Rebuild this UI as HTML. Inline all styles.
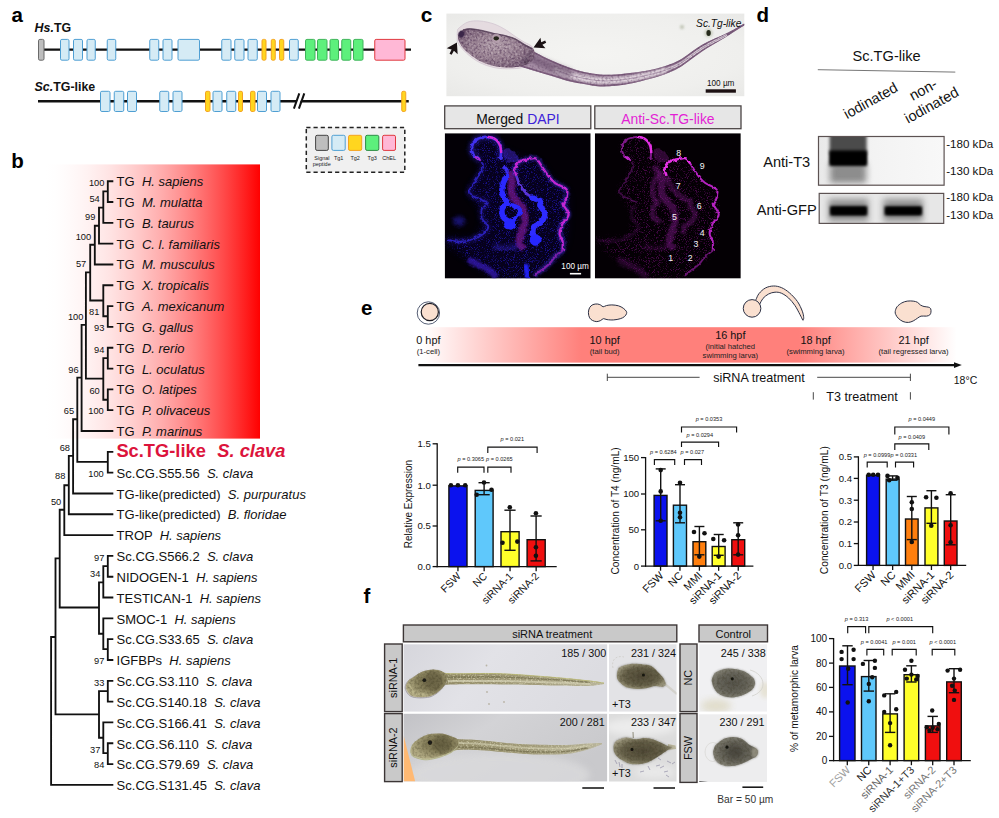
<!DOCTYPE html>
<html><head><meta charset="utf-8"><title>Figure</title>
<style>
html,body{margin:0;padding:0;background:#fff;}
body{width:999px;height:818px;overflow:hidden;font-family:"Liberation Sans",sans-serif;}
svg{display:block;font-family:"Liberation Sans",sans-serif;}
</style></head><body>
<svg width="999" height="818" viewBox="0 0 999 818">
<rect x="0" y="0" width="999" height="818" fill="#fff"/>
<!-- panel_a -->
<g>
<text x="11.5" y="22.3" font-size="20.5" font-weight="bold" fill="#000" >a</text>
<text x="34.6" y="32.2" font-size="12.4" font-weight="bold" fill="#111"><tspan font-style="italic">Hs.</tspan>TG</text>
<text x="34.6" y="91" font-size="12.4" font-weight="bold" fill="#111"><tspan font-style="italic">Sc.</tspan>TG-like</text>
<line x1="38" y1="49.6" x2="411" y2="49.6" stroke="#111" stroke-width="2.4" />
<rect x="38.5" y="39.4" width="5.5" height="20.8" fill="#bebebe" stroke="#6a6a6a" stroke-width="1" rx="1.4"/>
<rect x="60.5" y="39.4" width="8.5" height="20.8" fill="#d5ebf5" stroke="#4f9fd3" stroke-width="1" rx="1.4"/>
<rect x="73.5" y="39.4" width="9" height="20.8" fill="#d5ebf5" stroke="#4f9fd3" stroke-width="1" rx="1.4"/>
<rect x="87" y="39.4" width="8.25" height="20.8" fill="#d5ebf5" stroke="#4f9fd3" stroke-width="1" rx="1.4"/>
<rect x="107.25" y="39.4" width="8.5" height="20.8" fill="#d5ebf5" stroke="#4f9fd3" stroke-width="1" rx="1.4"/>
<rect x="149.75" y="39.4" width="9" height="20.8" fill="#d5ebf5" stroke="#4f9fd3" stroke-width="1" rx="1.4"/>
<rect x="163" y="39.4" width="9" height="20.8" fill="#d5ebf5" stroke="#4f9fd3" stroke-width="1" rx="1.4"/>
<rect x="178" y="39.4" width="21.5" height="20.8" fill="#d5ebf5" stroke="#4f9fd3" stroke-width="1" rx="1.4"/>
<rect x="221.75" y="39.4" width="9.25" height="20.8" fill="#d5ebf5" stroke="#4f9fd3" stroke-width="1" rx="1.4"/>
<rect x="234.75" y="39.4" width="9.25" height="20.8" fill="#d5ebf5" stroke="#4f9fd3" stroke-width="1" rx="1.4"/>
<rect x="248" y="39.4" width="9.25" height="20.8" fill="#d5ebf5" stroke="#4f9fd3" stroke-width="1" rx="1.4"/>
<rect x="289.5" y="39.4" width="8.75" height="20.8" fill="#d5ebf5" stroke="#4f9fd3" stroke-width="1" rx="1.4"/>
<rect x="262" y="39.4" width="4" height="20.8" fill="#ffd61f" stroke="#f4a321" stroke-width="1" rx="1.4"/>
<rect x="271.25" y="39.4" width="4" height="20.8" fill="#ffd61f" stroke="#f4a321" stroke-width="1" rx="1.4"/>
<rect x="279.5" y="39.4" width="4.25" height="20.8" fill="#ffd61f" stroke="#f4a321" stroke-width="1" rx="1.4"/>
<rect x="305.5" y="39.4" width="9.5" height="20.8" fill="#5df07c" stroke="#3fb45a" stroke-width="1" rx="1.4"/>
<rect x="317.5" y="39.4" width="9.5" height="20.8" fill="#5df07c" stroke="#3fb45a" stroke-width="1" rx="1.4"/>
<rect x="330" y="39.4" width="8.5" height="20.8" fill="#5df07c" stroke="#3fb45a" stroke-width="1" rx="1.4"/>
<rect x="341.75" y="39.4" width="9" height="20.8" fill="#5df07c" stroke="#3fb45a" stroke-width="1" rx="1.4"/>
<rect x="353.5" y="39.4" width="9.5" height="20.8" fill="#5df07c" stroke="#3fb45a" stroke-width="1" rx="1.4"/>
<rect x="374.75" y="39.4" width="30.25" height="20.8" fill="#ffb8d6" stroke="#e0393f" stroke-width="1" rx="1.4"/>
<line x1="38" y1="101.3" x2="408.75" y2="101.3" stroke="#111" stroke-width="2.4" />
<polygon points="295.5,104 298.5,98.5 302,98.5 299,104" fill="#fff"/>
<line x1="293.9" y1="108.6" x2="299.3" y2="93.4" stroke="#111" stroke-width="2" />
<line x1="298.9" y1="108.6" x2="304.3" y2="93.4" stroke="#111" stroke-width="2" />
<rect x="100.5" y="91.3" width="9.5" height="20.2" fill="#d5ebf5" stroke="#4f9fd3" stroke-width="1" rx="1.4"/>
<rect x="114.25" y="91.3" width="9.5" height="20.2" fill="#d5ebf5" stroke="#4f9fd3" stroke-width="1" rx="1.4"/>
<rect x="127.5" y="91.3" width="9" height="20.2" fill="#d5ebf5" stroke="#4f9fd3" stroke-width="1" rx="1.4"/>
<rect x="159.75" y="91.3" width="9" height="20.2" fill="#d5ebf5" stroke="#4f9fd3" stroke-width="1" rx="1.4"/>
<rect x="173" y="91.3" width="9" height="20.2" fill="#d5ebf5" stroke="#4f9fd3" stroke-width="1" rx="1.4"/>
<rect x="213" y="91.3" width="9" height="20.2" fill="#d5ebf5" stroke="#4f9fd3" stroke-width="1" rx="1.4"/>
<rect x="226.75" y="91.3" width="9" height="20.2" fill="#d5ebf5" stroke="#4f9fd3" stroke-width="1" rx="1.4"/>
<rect x="257.5" y="91.3" width="9" height="20.2" fill="#d5ebf5" stroke="#4f9fd3" stroke-width="1" rx="1.4"/>
<rect x="271" y="91.3" width="9" height="20.2" fill="#d5ebf5" stroke="#4f9fd3" stroke-width="1" rx="1.4"/>
<rect x="205.5" y="91.3" width="4.5" height="20.2" fill="#ffd61f" stroke="#f4a321" stroke-width="1" rx="1.4"/>
<rect x="238.5" y="91.3" width="4" height="20.2" fill="#ffd61f" stroke="#f4a321" stroke-width="1" rx="1.4"/>
<rect x="250.5" y="91.3" width="4.5" height="20.2" fill="#ffd61f" stroke="#f4a321" stroke-width="1" rx="1.4"/>
<rect x="401.75" y="91.3" width="4" height="20.2" fill="#ffd61f" stroke="#f4a321" stroke-width="1" rx="1.4"/>
<rect x="306.3" y="127.5" width="98.5" height="44.8" fill="#f0f0f0" stroke="#222" stroke-width="1.5" stroke-dasharray="4.2 3"/>
<rect x="315.6" y="135.3" width="12.7" height="15.1" fill="#bebebe" stroke="#444" stroke-width="1" rx="1.5"/>
<rect x="331.9" y="135.3" width="13.3" height="15.1" fill="#d5ebf5" stroke="#4f9fd3" stroke-width="1" rx="1.5"/>
<rect x="348.5" y="135.3" width="13.2" height="15.1" fill="#ffd61f" stroke="#f4a321" stroke-width="1" rx="1.5"/>
<rect x="365.6" y="135.3" width="13.2" height="15.1" fill="#5df07c" stroke="#2e8b45" stroke-width="1" rx="1.5"/>
<rect x="382.6" y="135.3" width="12.9" height="15.1" fill="#ffb8d6" stroke="#e0393f" stroke-width="1" rx="1.5"/>
<text x="338.7" y="159.6" font-size="5.5" text-anchor="middle" fill="#222" >Tg1</text>
<text x="355.2" y="159.6" font-size="5.5" text-anchor="middle" fill="#222" >Tg2</text>
<text x="372.2" y="159.6" font-size="5.5" text-anchor="middle" fill="#222" >Tg3</text>
<text x="389.1" y="159.6" font-size="5.5" text-anchor="middle" fill="#222" >ChEL</text>
<text x="321.9" y="159.6" font-size="5.5" text-anchor="middle" fill="#222" >Signal</text>
<text x="321.7" y="166.4" font-size="5.5" text-anchor="middle" fill="#222" >peptide</text>
</g>
<!-- panel_b -->
<g>
<text x="11.3" y="167.6" font-size="20.5" font-weight="bold" fill="#000" >b</text>
<defs><linearGradient id="gb" x1="0" x2="1" y1="0" y2="0"><stop offset="0.00" stop-color="#ffffff"/><stop offset="0.05" stop-color="#fffefe"/><stop offset="0.10" stop-color="#fffbfb"/><stop offset="0.15" stop-color="#fff7f7"/><stop offset="0.20" stop-color="#fff2f2"/><stop offset="0.25" stop-color="#ffebeb"/><stop offset="0.30" stop-color="#ffe4e4"/><stop offset="0.35" stop-color="#ffdada"/><stop offset="0.40" stop-color="#ffd0d0"/><stop offset="0.45" stop-color="#ffc5c5"/><stop offset="0.50" stop-color="#ffb8b8"/><stop offset="0.55" stop-color="#ffabab"/><stop offset="0.60" stop-color="#ff9c9c"/><stop offset="0.65" stop-color="#ff8c8c"/><stop offset="0.70" stop-color="#ff7b7b"/><stop offset="0.75" stop-color="#ff6969"/><stop offset="0.80" stop-color="#ff5656"/><stop offset="0.85" stop-color="#ff4242"/><stop offset="0.90" stop-color="#ff2d2d"/><stop offset="0.95" stop-color="#ff1717"/><stop offset="1.00" stop-color="#ff0000"/></linearGradient></defs>
<rect x="44.5" y="164.4" width="215.5" height="274.2" fill="url(#gb)"/>
<path d="M107.8 181.2L107.8 202.02M107.8 181.2L112.4 181.2M107.8 202.02L112.4 202.02M103.3 191.4L107.8 191.4M103.3 191.4L103.3 222.83M103.3 222.83L112.4 222.83M99 207.6L103.3 207.6M99 207.6L99 243.65M99 243.65L112.4 243.65M94.8 225.7L99 225.7M94.8 225.7L94.8 264.47M94.8 264.47L112.4 264.47M90.2 244.7L94.8 244.7M107.8 306.1L107.8 326.92M107.8 306.1L112.4 306.1M107.8 326.92L112.4 326.92M103.3 316.2L107.8 316.2M103.3 285.28L103.3 316.2M103.3 285.28L112.4 285.28M90.2 300.5L103.3 300.5M90.2 244.7L90.2 300.5M85.9 272.3L90.2 272.3M107.8 347.74L107.8 368.55M107.8 347.74L112.4 347.74M107.8 368.55L112.4 368.55M103.3 358.1L107.8 358.1M107.8 389.37L107.8 410.19M107.8 389.37L112.4 389.37M107.8 410.19L112.4 410.19M103.3 399.7L107.8 399.7M103.3 358.1L103.3 399.7M85.9 378.6L103.3 378.6M85.9 272.3L85.9 378.6M81.6 324.8L85.9 324.8M81.6 324.8L81.6 431M81.6 431L112.4 431M77.3 377.6L81.6 377.6M107.8 451.82L107.8 472.64M107.8 451.82L112.4 451.82M107.8 472.64L112.4 472.64M77.3 461.8L107.8 461.8M77.3 377.6L77.3 461.8M73.1 419.2L77.3 419.2M73.1 419.2L73.1 493.45M73.1 493.45L112.4 493.45M68.8 455.9L73.1 455.9M68.8 455.9L68.8 514.27M68.8 514.27L112.4 514.27M64.3 485.2L68.8 485.2M64.3 485.2L64.3 535.09M64.3 535.09L112.4 535.09M59.7 509.7L64.3 509.7M107.8 555.91L107.8 576.72M107.8 555.91L112.4 555.91M107.8 576.72L112.4 576.72M103.3 566.1L107.8 566.1M103.3 566.1L103.3 597.54M103.3 597.54L112.4 597.54M99 582.3L103.3 582.3M107.8 639.17L107.8 659.99M107.8 639.17L112.4 639.17M107.8 659.99L112.4 659.99M103.3 649.1L107.8 649.1M103.3 618.36L103.3 649.1M103.3 618.36L112.4 618.36M99 633.7L103.3 633.7M99 582.3L99 633.7M59.7 607.5L99 607.5M59.7 509.7L59.7 607.5M55.5 558.4L59.7 558.4M107.8 680.81L107.8 701.62M107.8 680.81L112.4 680.81M107.8 701.62L112.4 701.62M99 691.1L107.8 691.1M107.8 743.26L107.8 764.08M107.8 743.26L112.4 743.26M107.8 764.08L112.4 764.08M103.3 753.1L107.8 753.1M103.3 722.44L103.3 753.1M103.3 722.44L112.4 722.44M99 737.7L103.3 737.7M99 691.1L99 737.7M55.5 714.3L99 714.3M55.5 558.4L55.5 714.3M51.1 637L55.5 637M51.1 637L51.1 784.89M51.1 784.89L112.4 784.89" stroke="#111" stroke-width="1.85" fill="none" stroke-linecap="square"/>
<text x="116.6" y="186" font-size="13" fill="#111" xml:space="preserve">TG  <tspan font-style="italic">H. sapiens</tspan></text>
<text x="116.6" y="206.84" font-size="13" fill="#111" xml:space="preserve">TG  <tspan font-style="italic">M. mulatta</tspan></text>
<text x="116.6" y="227.67" font-size="13" fill="#111" xml:space="preserve">TG  <tspan font-style="italic">B. taurus</tspan></text>
<text x="116.6" y="248.51" font-size="13" fill="#111" xml:space="preserve">TG  <tspan font-style="italic">C. l. familiaris</tspan></text>
<text x="116.6" y="269.35" font-size="13" fill="#111" xml:space="preserve">TG  <tspan font-style="italic">M. musculus</tspan></text>
<text x="116.6" y="290.19" font-size="13" fill="#111" xml:space="preserve">TG  <tspan font-style="italic">X. tropicalis</tspan></text>
<text x="116.6" y="311.02" font-size="13" fill="#111" xml:space="preserve">TG  <tspan font-style="italic">A. mexicanum</tspan></text>
<text x="116.6" y="331.86" font-size="13" fill="#111" xml:space="preserve">TG  <tspan font-style="italic">G. gallus</tspan></text>
<text x="116.6" y="352.7" font-size="13" fill="#111" xml:space="preserve">TG  <tspan font-style="italic">D. rerio</tspan></text>
<text x="116.6" y="373.53" font-size="13" fill="#111" xml:space="preserve">TG  <tspan font-style="italic">L. oculatus</tspan></text>
<text x="116.6" y="394.37" font-size="13" fill="#111" xml:space="preserve">TG  <tspan font-style="italic">O. latipes</tspan></text>
<text x="116.6" y="415.21" font-size="13" fill="#111" xml:space="preserve">TG  <tspan font-style="italic">P. olivaceus</tspan></text>
<text x="116.6" y="436.04" font-size="13" fill="#111" xml:space="preserve">TG  <tspan font-style="italic">P. marinus</tspan></text>
<text x="116.4" y="457.42" font-size="18.3" font-weight="bold" fill="#dc143c">Sc.TG-like</text>
<text x="217.3" y="457.42" font-size="18.3" font-weight="bold" font-style="italic" fill="#dc143c">S. clava</text>
<text x="116.6" y="477.72" font-size="13" fill="#111" xml:space="preserve">Sc.CG.S55.56  <tspan font-style="italic">S. clava</tspan></text>
<text x="116.6" y="498.56" font-size="13" fill="#111" xml:space="preserve">TG-like(predicted)  <tspan font-style="italic">S. purpuratus</tspan></text>
<text x="116.6" y="519.39" font-size="13" fill="#111" xml:space="preserve">TG-like(predicted)  <tspan font-style="italic">B. floridae</tspan></text>
<text x="116.6" y="540.23" font-size="13" fill="#111" xml:space="preserve">TROP  <tspan font-style="italic">H. sapiens</tspan></text>
<text x="116.6" y="561.07" font-size="13" fill="#111" xml:space="preserve">Sc.CG.S566.2  <tspan font-style="italic">S. clava</tspan></text>
<text x="116.6" y="581.9" font-size="13" fill="#111" xml:space="preserve">NIDOGEN-1  <tspan font-style="italic">H. sapiens</tspan></text>
<text x="116.6" y="602.74" font-size="13" fill="#111" xml:space="preserve">TESTICAN-1  <tspan font-style="italic">H. sapiens</tspan></text>
<text x="116.6" y="623.58" font-size="13" fill="#111" xml:space="preserve">SMOC-1  <tspan font-style="italic">H. sapiens</tspan></text>
<text x="116.6" y="644.41" font-size="13" fill="#111" xml:space="preserve">Sc.CG.S33.65  <tspan font-style="italic">S. clava</tspan></text>
<text x="116.6" y="665.25" font-size="13" fill="#111" xml:space="preserve">IGFBPs  <tspan font-style="italic">H. sapiens</tspan></text>
<text x="116.6" y="686.09" font-size="13" fill="#111" xml:space="preserve">Sc.CG.S3.110  <tspan font-style="italic">S. clava</tspan></text>
<text x="116.6" y="706.92" font-size="13" fill="#111" xml:space="preserve">Sc.CG.S140.18  <tspan font-style="italic">S. clava</tspan></text>
<text x="116.6" y="727.76" font-size="13" fill="#111" xml:space="preserve">Sc.CG.S166.41  <tspan font-style="italic">S. clava</tspan></text>
<text x="116.6" y="748.6" font-size="13" fill="#111" xml:space="preserve">Sc.CG.S6.110  <tspan font-style="italic">S. clava</tspan></text>
<text x="116.6" y="769.44" font-size="13" fill="#111" xml:space="preserve">Sc.CG.S79.69  <tspan font-style="italic">S. clava</tspan></text>
<text x="116.6" y="790.27" font-size="13" fill="#111" xml:space="preserve">Sc.CG.S131.45  <tspan font-style="italic">S. clava</tspan></text>
<text x="104.4" y="186" font-size="9.3" text-anchor="end" fill="#111" >100</text>
<text x="99.8" y="202" font-size="9.3" text-anchor="end" fill="#111" >54</text>
<text x="95.4" y="220.2" font-size="9.3" text-anchor="end" fill="#111" >99</text>
<text x="91.2" y="239.5" font-size="9.3" text-anchor="end" fill="#111" >100</text>
<text x="86.3" y="267.2" font-size="9.3" text-anchor="end" fill="#111" >57</text>
<text x="83.4" y="320.2" font-size="9.3" text-anchor="end" fill="#111" >100</text>
<text x="99.4" y="315.2" font-size="9.3" text-anchor="end" fill="#111" >81</text>
<text x="104.4" y="331" font-size="9.3" text-anchor="end" fill="#111" >93</text>
<text x="104.4" y="352.7" font-size="9.3" text-anchor="end" fill="#111" >94</text>
<text x="78.7" y="373" font-size="9.3" text-anchor="end" fill="#111" >96</text>
<text x="99.8" y="393.7" font-size="9.3" text-anchor="end" fill="#111" >60</text>
<text x="103.8" y="414.2" font-size="9.3" text-anchor="end" fill="#111" >100</text>
<text x="74.1" y="414.2" font-size="9.3" text-anchor="end" fill="#111" >65</text>
<text x="70" y="450.8" font-size="9.3" text-anchor="end" fill="#111" >68</text>
<text x="103.8" y="476.9" font-size="9.3" text-anchor="end" fill="#111" >100</text>
<text x="65.4" y="479.2" font-size="9.3" text-anchor="end" fill="#111" >88</text>
<text x="61.3" y="504.8" font-size="9.3" text-anchor="end" fill="#111" >50</text>
<text x="104.4" y="560.8" font-size="9.3" text-anchor="end" fill="#111" >97</text>
<text x="100.4" y="576.9" font-size="9.3" text-anchor="end" fill="#111" >34</text>
<text x="104.4" y="663.8" font-size="9.3" text-anchor="end" fill="#111" >97</text>
<text x="104.4" y="685.7" font-size="9.3" text-anchor="end" fill="#111" >33</text>
<text x="100.4" y="752.8" font-size="9.3" text-anchor="end" fill="#111" >37</text>
<text x="104.4" y="768.2" font-size="9.3" text-anchor="end" fill="#111" >84</text>
</g>
<!-- panel_c -->
<g>
<text x="420.7" y="22.1" font-size="20.8" font-weight="bold" fill="#000" >c</text>
<defs>
<filter id="b05" x="-20%" y="-20%" width="140%" height="140%"><feGaussianBlur stdDeviation="0.5"/></filter>
<filter id="b1" x="-20%" y="-20%" width="140%" height="140%"><feGaussianBlur stdDeviation="1"/></filter>
<filter id="b2" x="-30%" y="-30%" width="160%" height="160%"><feGaussianBlur stdDeviation="2"/></filter>
<filter id="b4" x="-30%" y="-30%" width="160%" height="160%"><feGaussianBlur stdDeviation="4"/></filter>
<filter id="ctex" x="0" y="0" width="100%" height="100%" color-interpolation-filters="sRGB"><feTurbulence type="fractalNoise" baseFrequency="0.5" numOctaves="3" seed="4" result="n"/><feColorMatrix in="n" type="matrix" values="0 0 0 0 0.28  0 0 0 0 0.16  0 0 0 0 0.3  0 0 3 0 -1.25" result="c"/><feGaussianBlur in="SourceGraphic" stdDeviation="0.7" result="m"/><feComposite in="c" in2="m" operator="in"/></filter>
<filter id="ctexl" x="0" y="0" width="100%" height="100%" color-interpolation-filters="sRGB"><feTurbulence type="fractalNoise" baseFrequency="0.45" numOctaves="3" seed="8" result="n"/><feColorMatrix in="n" type="matrix" values="0 0 0 0 0.9  0 0 0 0 0.85  0 0 0 0 0.88  0 3 0 0 -1.35" result="c"/><feGaussianBlur in="SourceGraphic" stdDeviation="0.7" result="m"/><feComposite in="c" in2="m" operator="in"/></filter>
<clipPath id="cph"><rect x="446.4" y="13.6" width="297.9" height="82.6"/></clipPath>
<clipPath id="cpf"><rect x="0" y="0" width="146" height="145.4"/></clipPath>
<linearGradient id="gtail" x1="0" x2="1" y1="0" y2="0"><stop offset="0" stop-color="#6a4a68"/><stop offset="0.5" stop-color="#8d6c8a"/><stop offset="1" stop-color="#a486a4"/></linearGradient>
<radialGradient id="ghead" cx="0.5" cy="0.45" r="0.6"><stop offset="0" stop-color="#b3a0ab"/><stop offset="0.55" stop-color="#998292"/><stop offset="1" stop-color="#6f566e"/></radialGradient>
<radialGradient id="gbg" cx="0.5" cy="0.5" r="0.7"><stop offset="0" stop-color="#f4f4f2"/><stop offset="0.7" stop-color="#efefed"/><stop offset="1" stop-color="#e9e9e7"/></radialGradient>
</defs>
<rect x="446.4" y="13.6" width="297.9" height="82.6" fill="url(#gbg)"/>
<g clip-path="url(#cph)">
<path d="M457.2 37C457.13 35.08 457.1 32.5 457.4 31C457.7 29.5 457.23 29.5 459 28C460.77 26.5 464.5 23.17 468 22C471.5 20.83 475.67 20.67 480 21C484.33 21.33 489.67 22.5 494 24C498.33 25.5 502.33 27.83 506 30C509.67 32.17 513 35 516 37C519 39 521.17 40.17 524 42C526.83 43.83 531.67 44.67 533 48C534.33 51.33 533.67 58.75 532 62C530.33 65.25 527.33 66.37 523 67.5C518.67 68.63 511 68.83 506 68.8C501 68.77 497.17 68.23 493 67.3C488.83 66.37 484.67 64.92 481 63.2C477.33 61.48 474 59.27 471 57C468 54.73 465.2 52.02 463 49.6C460.8 47.18 458.77 44.6 457.8 42.5C456.83 40.4 457.27 38.92 457.2 37Z" fill="#e2d5dc" stroke="#c9b9c8" stroke-width="0.8" opacity="0.75" filter="url(#b05)"/>
<path d="M520 43.2C522.67 44.8 530.67 49.87 536 52.8C541.33 55.73 546.67 58.4 552 60.8C557.33 63.2 562.67 65.33 568 67.2C573.33 69.07 578.67 70.78 584 72C589.33 73.22 594.67 74.08 600 74.5C605.33 74.92 610.67 74.78 616 74.5C621.33 74.22 626.67 73.48 632 72.8C637.33 72.12 642.67 71.47 648 70.4C653.33 69.33 658.67 68.13 664 66.4C669.33 64.67 673.67 63.58 680 60C686.33 56.42 694.33 49.3 702 44.9C709.67 40.5 718.92 37.13 726 33.6C733.08 30.07 741.42 25.35 744.5 23.7L744.5 24.9C741.42 26.88 733.08 32.4 726 36.8C718.92 41.2 709.67 46.23 702 51.3C694.33 56.37 686.33 63.33 680 67.2C673.67 71.07 669.33 72.48 664 74.5C658.67 76.52 653.33 77.83 648 79.3C642.67 80.77 637.33 82.23 632 83.3C626.67 84.37 621.33 85.17 616 85.7C610.67 86.23 605.33 86.78 600 86.5C594.67 86.22 589.33 84.93 584 84C578.67 83.07 573.33 82.23 568 80.9C562.67 79.57 557.33 77.62 552 76C546.67 74.38 541.33 72.8 536 71.2C530.67 69.6 522.67 67.2 520 66.4Z" fill="#ad96ac" filter="url(#b05)"/>
<path d="M520 44C522.67 45.6 530.67 50.67 536 53.6C541.33 56.53 546.67 59.2 552 61.6C557.33 64 562.67 66.13 568 68C573.33 69.87 578.67 71.58 584 72.8C589.33 74.02 594.67 74.88 600 75.3C605.33 75.72 610.67 75.58 616 75.3C621.33 75.02 626.67 74.28 632 73.6C637.33 72.92 642.67 72.27 648 71.2C653.33 70.13 658.67 68.93 664 67.2C669.33 65.47 673.67 64.38 680 60.8C686.33 57.22 694.33 50.1 702 45.7C709.67 41.3 718.92 37.93 726 34.4C733.08 30.87 741.42 26.15 744.5 24.5" fill="none" stroke="#7b5c7c" stroke-width="1.6" opacity="0.9" filter="url(#b05)"/>
<path d="M744.5 24.1C741.42 26.08 733.08 31.6 726 36C718.92 40.4 709.67 45.43 702 50.5C694.33 55.57 686.33 62.53 680 66.4C673.67 70.27 669.33 71.68 664 73.7C658.67 75.72 653.33 77.03 648 78.5C642.67 79.97 637.33 81.43 632 82.5C626.67 83.57 621.33 84.37 616 84.9C610.67 85.43 605.33 85.98 600 85.7C594.67 85.42 589.33 84.13 584 83.2C578.67 82.27 573.33 81.43 568 80.1C562.67 78.77 557.33 76.82 552 75.2C546.67 73.58 541.33 72 536 70.4C530.67 68.8 522.67 66.4 520 65.6" fill="none" stroke="#7b5c7c" stroke-width="1.6" opacity="0.9" filter="url(#b05)"/>
<path d="M556 70C558 70.75 563.33 73.08 568 74.5C572.67 75.92 578.67 77.45 584 78.5C589.33 79.55 594.67 80.48 600 80.8C605.33 81.12 610.67 80.82 616 80.4C621.33 79.98 626.67 79.2 632 78.3C637.33 77.4 642.67 76.28 648 75C653.33 73.72 661.33 71.33 664 70.6" fill="none" stroke="#e6dce3" stroke-width="5.4" stroke-linecap="round" opacity="0.95" filter="url(#b1)"/>
<path d="M664 70.6C666.67 69.45 673.67 67.43 680 63.7C686.33 59.97 694.33 52.93 702 48.2C709.67 43.47 722 37.45 726 35.3" fill="none" stroke="#e6dce3" stroke-width="2.4" stroke-linecap="round" opacity="0.95" filter="url(#b05)"/>
<path d="M556 70C558 70.75 563.33 73.08 568 74.5C572.67 75.92 578.67 77.45 584 78.5C589.33 79.55 594.67 80.48 600 80.8C605.33 81.12 610.67 80.82 616 80.4C621.33 79.98 626.67 79.2 632 78.3C637.33 77.4 642.67 76.28 648 75C653.33 73.72 658.67 72.48 664 70.6C669.33 68.72 673.67 67.43 680 63.7C686.33 59.97 694.33 52.93 702 48.2C709.67 43.47 722 37.45 726 35.3" fill="none" stroke="#8e7090" stroke-width="0.8" opacity="0.7" filter="url(#b05)"/>
<path d="M520 43.2C522.67 44.8 530.67 49.87 536 52.8C541.33 55.73 546.67 58.4 552 60.8C557.33 63.2 562.67 65.33 568 67.2C573.33 69.07 578.67 70.78 584 72C589.33 73.22 594.67 74.08 600 74.5C605.33 74.92 610.67 74.78 616 74.5C621.33 74.22 626.67 73.48 632 72.8C637.33 72.12 642.67 71.47 648 70.4C653.33 69.33 658.67 68.13 664 66.4C669.33 64.67 673.67 63.58 680 60C686.33 56.42 694.33 49.3 702 44.9C709.67 40.5 718.92 37.13 726 33.6C733.08 30.07 741.42 25.35 744.5 23.7L744.5 24.9C741.42 26.88 733.08 32.4 726 36.8C718.92 41.2 709.67 46.23 702 51.3C694.33 56.37 686.33 63.33 680 67.2C673.67 71.07 669.33 72.48 664 74.5C658.67 76.52 653.33 77.83 648 79.3C642.67 80.77 637.33 82.23 632 83.3C626.67 84.37 621.33 85.17 616 85.7C610.67 86.23 605.33 86.78 600 86.5C594.67 86.22 589.33 84.93 584 84C578.67 83.07 573.33 82.23 568 80.9C562.67 79.57 557.33 77.62 552 76C546.67 74.38 541.33 72.8 536 71.2C530.67 69.6 522.67 67.2 520 66.4Z" fill="#000" filter="url(#ctex)" opacity="0.3"/>
<path d="M524 52C526 53.33 531.33 57.5 536 60C540.67 62.5 546.67 64.83 552 67C557.33 69.17 565.33 72 568 73" fill="none" stroke="#5b3f5e" stroke-width="9" stroke-linecap="round" opacity="0.5" filter="url(#b2)"/>
<path d="M458 37C457.97 35.58 458.5 34.5 459 33.5C459.5 32.5 459.67 31.83 461 31C462.33 30.17 464.17 28.75 467 28.5C469.83 28.25 474 28.83 478 29.5C482 30.17 487 31.67 491 32.5C495 33.33 498.17 33.58 502 34.5C505.83 35.42 510.33 36.42 514 38C517.67 39.58 520.83 42.25 524 44C527.17 45.75 531.25 46.5 533 48.5C534.75 50.5 534.83 53.75 534.5 56C534.17 58.25 532.58 60.47 531 62C529.42 63.53 527.5 64.37 525 65.2C522.5 66.03 519.17 66.62 516 67C512.83 67.38 509.67 67.67 506 67.5C502.33 67.33 498 66.92 494 66C490 65.08 485.67 63.67 482 62C478.33 60.33 475 58.17 472 56C469 53.83 466.13 51.33 464 49C461.87 46.67 460.2 44 459.2 42C458.2 40 458.03 38.42 458 37Z" fill="url(#ghead)" filter="url(#b05)"/>
<path d="M458 37C457.97 35.58 458.5 34.5 459 33.5C459.5 32.5 459.67 31.83 461 31C462.33 30.17 464.17 28.75 467 28.5C469.83 28.25 474 28.83 478 29.5C482 30.17 487 31.67 491 32.5C495 33.33 498.17 33.58 502 34.5C505.83 35.42 510.33 36.42 514 38C517.67 39.58 520.83 42.25 524 44C527.17 45.75 531.25 46.5 533 48.5C534.75 50.5 534.83 53.75 534.5 56C534.17 58.25 532.58 60.47 531 62C529.42 63.53 527.5 64.37 525 65.2C522.5 66.03 519.17 66.62 516 67C512.83 67.38 509.67 67.67 506 67.5C502.33 67.33 498 66.92 494 66C490 65.08 485.67 63.67 482 62C478.33 60.33 475 58.17 472 56C469 53.83 466.13 51.33 464 49C461.87 46.67 460.2 44 459.2 42C458.2 40 458.03 38.42 458 37Z" fill="#000" filter="url(#ctex)" opacity="0.5"/>
<path d="M458 37C457.97 35.58 458.5 34.5 459 33.5C459.5 32.5 459.67 31.83 461 31C462.33 30.17 464.17 28.75 467 28.5C469.83 28.25 474 28.83 478 29.5C482 30.17 487 31.67 491 32.5C495 33.33 498.17 33.58 502 34.5C505.83 35.42 510.33 36.42 514 38C517.67 39.58 520.83 42.25 524 44C527.17 45.75 531.25 46.5 533 48.5C534.75 50.5 534.83 53.75 534.5 56C534.17 58.25 532.58 60.47 531 62C529.42 63.53 527.5 64.37 525 65.2C522.5 66.03 519.17 66.62 516 67C512.83 67.38 509.67 67.67 506 67.5C502.33 67.33 498 66.92 494 66C490 65.08 485.67 63.67 482 62C478.33 60.33 475 58.17 472 56C469 53.83 466.13 51.33 464 49C461.87 46.67 460.2 44 459.2 42C458.2 40 458.03 38.42 458 37Z" fill="#fff" filter="url(#ctexl)" opacity="0.35"/>
<ellipse cx="526.5" cy="62" rx="1.8" ry="2.6" fill="#3d2a40" opacity="0.55" filter="url(#b1)"/>
<path d="M463 30C464.17 29.83 467.17 28.95 470 29C472.83 29.05 476.33 29.6 480 30.3C483.67 31 488 32.33 492 33.2C496 34.07 500.17 34.53 504 35.5C507.83 36.47 511.67 37.5 515 39C518.33 40.5 521.17 42.83 524 44.5C526.83 46.17 530.67 48.25 532 49" fill="none" stroke="#4c3650" stroke-width="1.6" opacity="0.7" filter="url(#b05)"/>
<path d="M522 62C523 61 526.33 58 528 56C529.67 54 531.33 51 532 50" fill="none" stroke="#4c3650" stroke-width="2.4" opacity="0.5" filter="url(#b1)"/>
<circle cx="496.3" cy="38.4" r="4.6" fill="#b9a3b1" opacity="0.8" filter="url(#b05)"/>
<ellipse cx="496.3" cy="38.3" rx="2.7" ry="2.1" fill="#26261a" filter="url(#b05)"/>
<ellipse cx="461.3" cy="34.2" rx="2.9" ry="3.4" fill="#3b2848" filter="url(#b05)" transform="rotate(25 461.3 34.2)"/>
<circle cx="708.6" cy="33" r="4.4" fill="#b9bfab" opacity="0.6" filter="url(#b1)"/>
<ellipse cx="708.6" cy="33" rx="2.2" ry="3" fill="#262b1c" filter="url(#b05)"/>
<circle cx="682" cy="27" r="2.2" fill="#aab19a" opacity="0.6" filter="url(#b1)"/>
</g>
<polygon points="456.9,42.4 446.72,48.31 451.61,49.55 449.54,53.66 451.65,54.79 453.91,50.78 457.66,54.14" fill="#1a1214"/>
<polygon points="533.5,47.5 545.48,48.18 542.36,44.69 546.19,42.73 545.15,40.57 541.23,42.34 540.45,37.72" fill="#1a1214"/>
<text x="741.4" y="26.5" font-size="10.2" text-anchor="end" font-style="italic" fill="#111" >Sc.Tg-like</text>
<rect x="705.7" y="89.3" width="30.2" height="3.4" fill="#1c1012"/>
<text x="720.7" y="86" font-size="8.2" text-anchor="middle" fill="#111" >100 µm</text>
<rect x="444.7" y="105.9" width="146.1" height="22.8" fill="#e6e6e6" stroke="#4a4444" stroke-width="1.3"/>
<rect x="594.8" y="105.9" width="146.2" height="22.8" fill="#e6e6e6" stroke="#4a4444" stroke-width="1.3"/>
<text x="517.9" y="124.1" font-size="13.9" text-anchor="middle" fill="#111">Merged <tspan fill="#3d22d9">DAPI</tspan></text>
<text x="667.9" y="124.1" font-size="13.9" text-anchor="middle" fill="#e31fd5" >Anti-Sc.TG-like</text>
<defs>
<filter id="spk" x="0" y="0" width="100%" height="100%" color-interpolation-filters="sRGB"><feTurbulence type="fractalNoise" baseFrequency="1.1" numOctaves="2" seed="3" result="n"/><feColorMatrix in="n" type="matrix" values="0 0 0 0 0.17  0 0 0 0 0.12  0 0 0 0 0.92  0 0 6 0 -3.25" result="c"/><feGaussianBlur in="SourceGraphic" stdDeviation="3" result="m"/><feComposite in="c" in2="m" operator="in"/></filter>
<filter id="spk2" x="0" y="0" width="100%" height="100%" color-interpolation-filters="sRGB"><feTurbulence type="fractalNoise" baseFrequency="1.1" numOctaves="2" seed="7" result="n"/><feColorMatrix in="n" type="matrix" values="0 0 0 0 0.6  0 0 0 0 0.08  0 0 0 0 0.62  0 0 6 0 -3.3" result="c"/><feGaussianBlur in="SourceGraphic" stdDeviation="3" result="m"/><feComposite in="c" in2="m" operator="in"/></filter>
<filter id="rough" x="-5%" y="-5%" width="110%" height="110%" color-interpolation-filters="sRGB"><feTurbulence type="fractalNoise" baseFrequency="0.25" numOctaves="2" seed="11" result="t"/><feDisplacementMap in="SourceGraphic" in2="t" scale="3.2" xChannelSelector="R" yChannelSelector="G" result="d"/><feGaussianBlur in="d" stdDeviation="0.45"/></filter>
</defs>
<g transform="translate(444.7,133.2)" clip-path="url(#cpf)">
<rect x="0" y="0" width="146" height="145.4" fill="#030006"/>
<path d="M35.34 27.03C34.21 22.27 26.83 17.57 27.08 13.82C27.33 10.06 32.71 5.63 36.84 4.51C40.97 3.38 48.6 4.51 51.85 7.06C55.11 9.61 55.11 18.19 56.36 19.82C57.61 21.45 56.61 16.32 59.36 16.82C62.11 17.32 68.87 21.32 72.87 22.82C76.88 24.33 79.63 24.58 83.38 25.83C87.14 27.08 90.89 26.33 95.4 30.33C99.9 34.34 105.91 45.35 110.41 49.85C114.92 54.36 120.17 52.12 122.42 57.36C124.68 62.6 124.68 71.31 123.92 81.31C123.17 91.31 123.67 107.09 117.92 117.35C112.16 127.61 95.15 138.24 89.39 142.87C83.63 147.5 89.64 144.87 83.38 145.12C77.13 145.37 61.86 147.5 51.85 144.37C41.84 141.25 31.58 132.11 23.32 126.36C15.07 120.6 5.81 113.47 2.3 109.84C-1.2 106.21 -1.7 105.46 2.3 104.58C6.31 103.71 20.57 106.46 26.33 104.58C32.08 102.71 35.34 98.2 36.84 93.32C38.34 88.44 37.46 81.17 35.34 75.3C33.21 69.44 24.33 63.6 24.07 58.11C23.82 52.62 31.96 47.52 33.83 42.34C35.71 37.16 36.46 31.78 35.34 27.03Z" fill="#1a10a0" opacity="0.14" filter="url(#b4)"/>
<path d="M35.34 27.03C34.21 22.27 26.83 17.57 27.08 13.82C27.33 10.06 32.71 5.63 36.84 4.51C40.97 3.38 48.6 4.51 51.85 7.06C55.11 9.61 55.11 18.19 56.36 19.82C57.61 21.45 56.61 16.32 59.36 16.82C62.11 17.32 68.87 21.32 72.87 22.82C76.88 24.33 79.63 24.58 83.38 25.83C87.14 27.08 90.89 26.33 95.4 30.33C99.9 34.34 105.91 45.35 110.41 49.85C114.92 54.36 120.17 52.12 122.42 57.36C124.68 62.6 124.68 71.31 123.92 81.31C123.17 91.31 123.67 107.09 117.92 117.35C112.16 127.61 95.15 138.24 89.39 142.87C83.63 147.5 89.64 144.87 83.38 145.12C77.13 145.37 61.86 147.5 51.85 144.37C41.84 141.25 31.58 132.11 23.32 126.36C15.07 120.6 5.81 113.47 2.3 109.84C-1.2 106.21 -1.7 105.46 2.3 104.58C6.31 103.71 20.57 106.46 26.33 104.58C32.08 102.71 35.34 98.2 36.84 93.32C38.34 88.44 37.46 81.17 35.34 75.3C33.21 69.44 24.33 63.6 24.07 58.11C23.82 52.62 31.96 47.52 33.83 42.34C35.71 37.16 36.46 31.78 35.34 27.03Z" fill="#fff" filter="url(#spk)" opacity="0.5"/>
<g filter="url(#rough)">
<path d="M59.36 16.82C60.36 15.37 63.11 14.62 65.37 15.62C67.62 16.62 71.37 20.87 72.87 22.82C74.38 24.78 75.63 26.33 74.38 27.33C73.12 28.33 67.87 29.33 65.37 28.83C62.86 28.33 60.36 26.33 59.36 24.33C58.36 22.32 58.36 18.27 59.36 16.82Z" fill="#3a20b0" opacity="0.55"/>
<path d="M36.84 28.83C37.09 29.71 38.84 31.83 38.34 34.09C37.84 36.34 35.34 39.72 33.83 42.34C32.33 44.97 30.96 47.22 29.33 49.85C27.7 52.48 24.58 56.11 24.07 58.11C23.57 60.11 24.7 60.61 26.33 61.86C27.95 63.11 31.08 64.37 33.83 65.62C36.59 66.87 41.72 68.26 42.84 69.37C43.97 70.48 41.59 71.06 40.59 72.3C39.59 73.54 37.34 74.55 36.84 76.81C36.34 79.06 36.46 83.06 37.59 85.82C38.71 88.57 43.47 90.82 43.59 93.32C43.72 95.83 41.22 98.63 38.34 100.83C35.46 103.03 30.33 105.28 26.33 106.54C22.32 107.79 18.32 108.29 14.32 108.34C10.31 108.39 4.31 107.09 2.3 106.84" fill="none" stroke="#3020c0" stroke-width="4.5" opacity="0.35" filter="url(#b2)"/>
<path d="M36.84 28.83C37.09 29.71 38.84 31.83 38.34 34.09C37.84 36.34 35.34 39.72 33.83 42.34C32.33 44.97 30.96 47.22 29.33 49.85C27.7 52.48 24.58 56.11 24.07 58.11C23.57 60.11 24.7 60.61 26.33 61.86C27.95 63.11 31.08 64.37 33.83 65.62C36.59 66.87 41.72 68.26 42.84 69.37C43.97 70.48 41.59 71.06 40.59 72.3C39.59 73.54 37.34 74.55 36.84 76.81C36.34 79.06 36.46 83.06 37.59 85.82C38.71 88.57 43.47 90.82 43.59 93.32C43.72 95.83 41.22 98.63 38.34 100.83C35.46 103.03 30.33 105.28 26.33 106.54C22.32 107.79 18.32 108.29 14.32 108.34C10.31 108.39 4.31 107.09 2.3 106.84" fill="none" stroke="#3024cc" stroke-width="1.7" opacity="0.85"/>
<path d="M23.32 126.36C24.83 127.11 28.83 129.11 32.33 130.86C35.84 132.61 41.09 134.61 44.35 136.87C47.6 139.12 50.6 143.12 51.85 144.37" fill="none" stroke="#3a1fc0" stroke-width="6.5" opacity="0.7" filter="url(#b1)"/>
<path d="M48.85 112.84C50.6 113.34 55.86 115.59 59.36 115.85C62.86 116.1 67.37 115.34 69.87 114.34C72.37 113.34 73.62 110.59 74.38 109.84" fill="none" stroke="#3020c0" stroke-width="6" opacity="0.5" filter="url(#b2)"/>
<path d="M80.38 130.86C80.63 131.86 81.38 134.49 81.88 136.87C82.38 139.24 83.13 143.75 83.38 145.12" fill="none" stroke="#2222ff" stroke-width="5.5" opacity="0.95" filter="url(#b1)"/>
<path d="M65.37 37.84C65.67 39.59 66.97 44.85 67.17 48.35C67.37 51.85 65.87 55.61 66.57 58.86C67.27 62.11 69.57 65.38 71.37 67.87C73.17 70.36 75.88 70.81 77.38 73.8C78.88 76.79 80.38 81.81 80.38 85.82C80.38 89.82 78.38 94.07 77.38 97.83C76.38 101.58 74.12 105.33 74.38 108.34C74.63 111.34 78.13 114.59 78.88 115.85" fill="none" stroke="#8a1aa0" stroke-width="7.5" opacity="0.62" filter="url(#b1)"/>
<path d="M35.34 27.03C34.21 26.08 29.96 23.52 28.58 21.32C27.2 19.12 26.83 16.07 27.08 13.82C27.33 11.56 28.45 9.36 30.08 7.81C31.71 6.26 34.21 5.13 36.84 4.51C39.47 3.88 43.34 3.63 45.85 4.06C48.35 4.48 50.23 5.56 51.85 7.06C53.48 8.56 54.86 10.94 55.61 13.06C56.36 15.19 56.36 17.69 56.36 19.82C56.36 21.95 55.73 24.83 55.61 25.83" fill="none" stroke="#3d2cf0" stroke-width="6" opacity="0.4" filter="url(#b2)"/>
<path d="M35.34 27.03C34.21 26.08 29.96 23.52 28.58 21.32C27.2 19.12 26.83 16.07 27.08 13.82C27.33 11.56 28.45 9.36 30.08 7.81C31.71 6.26 34.21 5.13 36.84 4.51C39.47 3.88 43.34 3.63 45.85 4.06C48.35 4.48 50.23 5.56 51.85 7.06C53.48 8.56 54.86 10.94 55.61 13.06C56.36 15.19 56.36 17.69 56.36 19.82C56.36 21.95 55.73 24.83 55.61 25.83" fill="none" stroke="#4030ee" stroke-width="2.8"/>
<path d="M42.09 3.75C42.97 3.88 45.72 3.96 47.35 4.51C48.97 5.06 50.48 5.63 51.85 7.06C53.23 8.48 54.83 10.94 55.61 13.06C56.38 15.19 56.36 18.69 56.51 19.82" fill="none" stroke="#d42ad8" stroke-width="2.3"/>
<path d="M30.08 22.82C30.51 23.27 31.63 24.78 32.63 25.53C33.63 26.28 35.51 27.03 36.09 27.33" fill="none" stroke="#b02ad0" stroke-width="1.8"/>
<path d="M58.16 33.63C58.86 34.14 61.79 34.94 62.36 36.64C62.94 38.34 61.74 42.64 61.61 43.85" fill="none" stroke="#3a2cf0" stroke-width="3.2"/>
<path d="M61.61 43.85C61.11 44.85 59.36 47.6 58.61 49.85C57.86 52.1 56.98 54.86 57.11 57.36C57.23 59.86 58.36 62.74 59.36 64.87C60.36 66.99 63.11 68.88 63.11 70.12C63.11 71.36 60.36 70.94 59.36 72.3C58.36 73.67 57.11 76.18 57.11 78.31C57.11 80.43 57.98 83.31 59.36 85.06C60.74 86.82 64.37 88.19 65.37 88.82" fill="none" stroke="#2a28ff" stroke-width="5.6" stroke-linecap="round"/>
<path d="M65.37 71.55C66.74 72.05 72 73.18 73.62 74.55C75.25 75.93 75.75 77.93 75.13 79.81C74.5 81.69 71.5 84.31 69.87 85.82C68.24 87.32 66.12 88.32 65.37 88.82" fill="none" stroke="#2a28ff" stroke-width="4"/>
<path d="M71.67 42.64C72.12 43.85 72.92 47.15 74.38 49.85C75.83 52.55 78.13 56.36 80.38 58.86C82.63 61.36 86.64 63.87 87.89 64.87" fill="none" stroke="#5a34d8" stroke-width="2.6"/>
<path d="M87.89 64.87C89.14 65.37 94.14 66.63 95.4 67.87C96.65 69.11 94.65 70.31 95.4 72.3C96.15 74.29 99.65 77.06 99.9 79.81C100.15 82.56 98.65 86.57 96.9 88.82C95.15 91.07 90.89 91.32 89.39 93.32C87.89 95.32 88.14 99.58 87.89 100.83" fill="none" stroke="#2e2cff" stroke-width="5.6" stroke-linecap="round"/>
<ellipse cx="65.37" cy="91.07" rx="6" ry="5.2" fill="#2626ff" filter="url(#b05)"/>
<ellipse cx="90.89" cy="106.84" rx="6" ry="5.6" fill="#2626ff" filter="url(#b05)"/>
<ellipse cx="14.32" cy="88.07" rx="6" ry="5" fill="#2a20c8" opacity="0.55" filter="url(#b2)"/>
<path d="M71.67 42.64C71.37 41.34 69.42 37.14 69.87 34.84C70.32 32.53 72.12 30.33 74.38 28.83C76.63 27.33 80.63 26.45 83.38 25.83C86.14 25.2 88.89 24.33 90.89 25.08C92.89 25.83 94.02 28.45 95.4 30.33C96.77 32.21 97.65 34.09 99.15 36.34C100.65 38.59 102.53 41.59 104.41 43.85C106.28 46.1 108.16 48.22 110.41 49.85C112.66 51.48 115.92 52.35 117.92 53.6C119.92 54.86 121.8 55.48 122.42 57.36C123.05 59.24 122.17 62.61 121.67 64.87C121.17 67.12 120.05 69.88 119.42 70.87C118.79 71.86 117.17 69.06 117.92 70.8C118.67 72.54 123.92 78.06 123.92 81.31C123.92 84.56 119.42 87.07 117.92 90.32C116.42 93.57 114.92 97.83 114.92 100.83C114.92 103.83 117.42 105.58 117.92 108.34C118.42 111.09 119.17 114.84 117.92 117.35C116.67 119.85 112.66 121.1 110.41 123.35C108.16 125.6 106.66 128.61 104.41 130.86C102.15 133.11 99.4 134.86 96.9 136.87C94.4 138.87 90.64 141.87 89.39 142.87" fill="none" stroke="#4a30e0" stroke-width="5" opacity="0.5" filter="url(#b1)"/>
<path d="M71.67 42.64C71.37 41.34 69.42 37.14 69.87 34.84C70.32 32.53 72.12 30.33 74.38 28.83C76.63 27.33 80.63 26.45 83.38 25.83C86.14 25.2 88.89 24.33 90.89 25.08C92.89 25.83 94.02 28.45 95.4 30.33C96.77 32.21 97.65 34.09 99.15 36.34C100.65 38.59 102.53 41.59 104.41 43.85C106.28 46.1 108.16 48.22 110.41 49.85C112.66 51.48 115.92 52.35 117.92 53.6C119.92 54.86 121.8 55.48 122.42 57.36C123.05 59.24 122.17 62.61 121.67 64.87C121.17 67.12 120.05 69.88 119.42 70.87C118.79 71.86 117.17 69.06 117.92 70.8C118.67 72.54 123.92 78.06 123.92 81.31C123.92 84.56 119.42 87.07 117.92 90.32C116.42 93.57 114.92 97.83 114.92 100.83C114.92 103.83 117.42 105.58 117.92 108.34C118.42 111.09 117.92 115.85 117.92 117.35" fill="none" stroke="#c226d2" stroke-width="2.2"/>
<path d="M117.92 117.35C116.67 118.35 112.66 121.1 110.41 123.35C108.16 125.6 106.66 128.61 104.41 130.86C102.15 133.11 99.4 134.86 96.9 136.87C94.4 138.87 90.64 141.87 89.39 142.87" fill="none" stroke="#a422c0" stroke-width="2" opacity="0.7"/>
</g>
<rect x="125.2" y="139.7" width="11.2" height="1.6" fill="#fff"/>
<text x="130.4" y="135.6" font-size="8.2" text-anchor="middle" fill="#fff" >100 µm</text>
</g>
<g transform="translate(594.8,133.2)" clip-path="url(#cpf)">
<rect x="0" y="0" width="146" height="145.4" fill="#040004"/>
<path d="M35.34 27.03C34.21 22.27 26.83 17.57 27.08 13.82C27.33 10.06 32.71 5.63 36.84 4.51C40.97 3.38 48.6 4.51 51.85 7.06C55.11 9.61 55.11 18.19 56.36 19.82C57.61 21.45 56.61 16.32 59.36 16.82C62.11 17.32 68.87 21.32 72.87 22.82C76.88 24.33 79.63 24.58 83.38 25.83C87.14 27.08 90.89 26.33 95.4 30.33C99.9 34.34 105.91 45.35 110.41 49.85C114.92 54.36 120.17 52.12 122.42 57.36C124.68 62.6 124.68 71.31 123.92 81.31C123.17 91.31 123.67 107.09 117.92 117.35C112.16 127.61 95.15 138.24 89.39 142.87C83.63 147.5 89.64 144.87 83.38 145.12C77.13 145.37 61.86 147.5 51.85 144.37C41.84 141.25 31.58 132.11 23.32 126.36C15.07 120.6 5.81 113.47 2.3 109.84C-1.2 106.21 -1.7 105.46 2.3 104.58C6.31 103.71 20.57 106.46 26.33 104.58C32.08 102.71 35.34 98.2 36.84 93.32C38.34 88.44 37.46 81.17 35.34 75.3C33.21 69.44 24.33 63.6 24.07 58.11C23.82 52.62 31.96 47.52 33.83 42.34C35.71 37.16 36.46 31.78 35.34 27.03Z" fill="#fff" filter="url(#spk2)" opacity="0.42"/>
<g filter="url(#rough)">
<path d="M59.36 16.82C60.36 15.37 63.11 14.62 65.37 15.62C67.62 16.62 71.37 20.87 72.87 22.82C74.38 24.78 75.63 26.33 74.38 27.33C73.12 28.33 67.87 29.33 65.37 28.83C62.86 28.33 60.36 26.33 59.36 24.33C58.36 22.32 58.36 18.27 59.36 16.82Z" fill="#7a1888" opacity="0.35"/>
<path d="M36.84 28.83C37.09 29.71 38.84 31.83 38.34 34.09C37.84 36.34 35.34 39.72 33.83 42.34C32.33 44.97 30.96 47.22 29.33 49.85C27.7 52.48 24.58 56.11 24.07 58.11C23.57 60.11 24.7 60.61 26.33 61.86C27.95 63.11 31.08 64.37 33.83 65.62C36.59 66.87 41.34 68.74 42.84 69.37" fill="none" stroke="#7a1a88" stroke-width="1.5" opacity="0.5"/>
<path d="M40.59 72.3C39.97 73.05 37.34 74.55 36.84 76.81C36.34 79.06 36.46 83.06 37.59 85.82C38.71 88.57 43.47 90.82 43.59 93.32C43.72 95.83 41.22 98.63 38.34 100.83C35.46 103.03 30.33 105.28 26.33 106.54C22.32 107.79 18.32 108.29 14.32 108.34C10.31 108.39 4.31 107.09 2.3 106.84" fill="none" stroke="#6a1678" stroke-width="2.5" opacity="0.3" filter="url(#b1)"/>
<path d="M65.37 37.84C65.67 39.59 66.97 44.85 67.17 48.35C67.37 51.85 65.87 55.61 66.57 58.86C67.27 62.11 69.57 65.38 71.37 67.87C73.17 70.36 75.88 70.81 77.38 73.8C78.88 76.79 80.38 81.81 80.38 85.82C80.38 89.82 78.38 94.07 77.38 97.83C76.38 101.58 74.12 105.33 74.38 108.34C74.63 111.34 78.13 114.59 78.88 115.85" fill="none" stroke="#8a1a98" stroke-width="7.5" opacity="0.42" filter="url(#b1)"/>
<path d="M58.16 33.63C58.86 34.14 61.79 34.94 62.36 36.64C62.94 38.34 62.24 41.64 61.61 43.85C60.99 46.05 59.36 47.6 58.61 49.85C57.86 52.1 56.98 54.86 57.11 57.36C57.23 59.86 58.36 62.74 59.36 64.87C60.36 66.99 63.11 68.88 63.11 70.12C63.11 71.36 60.36 70.94 59.36 72.3C58.36 73.67 57.11 76.18 57.11 78.31C57.11 80.43 57.98 83.31 59.36 85.06C60.74 86.82 64.37 88.19 65.37 88.82" fill="none" stroke="#8a1a98" stroke-width="5.5" opacity="0.36" filter="url(#b1)"/>
<path d="M71.67 42.64C72.12 43.85 72.92 47.15 74.38 49.85C75.83 52.55 78.13 56.36 80.38 58.86C82.63 61.36 85.39 63.36 87.89 64.87C90.39 66.37 94.14 66.63 95.4 67.87C96.65 69.11 94.65 70.31 95.4 72.3C96.15 74.29 99.65 77.06 99.9 79.81C100.15 82.56 98.65 86.57 96.9 88.82C95.15 91.07 90.89 91.32 89.39 93.32C87.89 95.32 88.14 99.58 87.89 100.83" fill="none" stroke="#8a1a98" stroke-width="5.5" opacity="0.34" filter="url(#b1)"/>
<path d="M23.32 126.36C24.83 127.11 28.83 129.11 32.33 130.86C35.84 132.61 41.09 134.61 44.35 136.87C47.6 139.12 50.6 143.12 51.85 144.37" fill="none" stroke="#7a1888" stroke-width="5" opacity="0.4" filter="url(#b2)"/>
<path d="M48.85 112.84C50.6 113.34 55.86 115.59 59.36 115.85C62.86 116.1 67.37 115.34 69.87 114.34C72.37 113.34 73.62 110.59 74.38 109.84" fill="none" stroke="#7a1888" stroke-width="4" opacity="0.3" filter="url(#b2)"/>
<path d="M35.34 27.03C34.21 26.08 29.96 23.52 28.58 21.32C27.2 19.12 26.83 16.07 27.08 13.82C27.33 11.56 28.45 9.36 30.08 7.81C31.71 6.26 34.21 5.13 36.84 4.51C39.47 3.88 43.34 3.63 45.85 4.06C48.35 4.48 50.23 5.56 51.85 7.06C53.48 8.56 54.86 10.94 55.61 13.06C56.36 15.19 56.36 17.69 56.36 19.82C56.36 21.95 55.73 24.83 55.61 25.83" fill="none" stroke="#9a1ea8" stroke-width="2.2" opacity="0.8"/>
<path d="M42.09 3.75C42.97 3.88 45.72 3.96 47.35 4.51C48.97 5.06 50.48 5.63 51.85 7.06C53.23 8.48 54.83 10.94 55.61 13.06C56.38 15.19 56.36 18.69 56.51 19.82" fill="none" stroke="#e430e4" stroke-width="2.4"/>
<path d="M30.08 22.82C30.51 23.27 31.63 24.78 32.63 25.53C33.63 26.28 35.51 27.03 36.09 27.33" fill="none" stroke="#c42ad0" stroke-width="1.8"/>
<path d="M71.67 42.64C71.37 41.34 69.42 37.14 69.87 34.84C70.32 32.53 72.12 30.33 74.38 28.83C76.63 27.33 80.63 26.45 83.38 25.83C86.14 25.2 88.89 24.33 90.89 25.08C92.89 25.83 94.02 28.45 95.4 30.33C96.77 32.21 97.65 34.09 99.15 36.34C100.65 38.59 102.53 41.59 104.41 43.85C106.28 46.1 108.16 48.22 110.41 49.85C112.66 51.48 115.92 52.35 117.92 53.6C119.92 54.86 121.8 55.48 122.42 57.36C123.05 59.24 122.17 62.61 121.67 64.87C121.17 67.12 120.05 69.88 119.42 70.87C118.79 71.86 117.17 69.06 117.92 70.8C118.67 72.54 123.92 78.06 123.92 81.31C123.92 84.56 119.42 87.07 117.92 90.32C116.42 93.57 114.92 97.83 114.92 100.83C114.92 103.83 117.42 105.58 117.92 108.34C118.42 111.09 117.92 115.85 117.92 117.35" fill="none" stroke="#b422c0" stroke-width="2"/>
<path d="M117.92 117.35C116.67 118.35 112.66 121.1 110.41 123.35C108.16 125.6 106.66 128.61 104.41 130.86C102.15 133.11 99.4 134.86 96.9 136.87C94.4 138.87 90.64 141.87 89.39 142.87" fill="none" stroke="#9a1ea8" stroke-width="1.9" opacity="0.65"/>
<path d="M71.67 42.64C71.37 41.34 69.42 37.14 69.87 34.84C70.32 32.53 72.12 30.33 74.38 28.83C76.63 27.33 80.63 26.45 83.38 25.83C86.14 25.2 88.89 24.33 90.89 25.08C92.89 25.83 94.65 29.46 95.4 30.33" fill="none" stroke="#e432e4" stroke-width="2.3"/>
</g>
<text x="83.91" y="23.22" font-size="8.8" text-anchor="middle" fill="#f4f4f4" >8</text>
<text x="107.36" y="35.62" font-size="8.8" text-anchor="middle" fill="#f4f4f4" >9</text>
<text x="83.52" y="56.02" font-size="8.8" text-anchor="middle" fill="#f4f4f4" >7</text>
<text x="104.5" y="76.05" font-size="8.8" text-anchor="middle" fill="#f4f4f4" >6</text>
<text x="79.71" y="86.91" font-size="8.8" text-anchor="middle" fill="#f4f4f4" >5</text>
<text x="107.36" y="102.74" font-size="8.8" text-anchor="middle" fill="#f4f4f4" >4</text>
<text x="101.26" y="114.18" font-size="8.8" text-anchor="middle" fill="#f4f4f4" >3</text>
<text x="95.35" y="127.53" font-size="8.8" text-anchor="middle" fill="#f4f4f4" >2</text>
<text x="75.9" y="127.53" font-size="8.8" text-anchor="middle" fill="#f4f4f4" >1</text>
</g>
</g>
<!-- panel_d -->
<g>
<text x="756.4" y="22.4" font-size="20.5" font-weight="bold" fill="#000" >d</text>
<text x="886.6" y="60.8" font-size="14.6" text-anchor="middle" fill="#111" >Sc.TG-like</text>
<line x1="817.8" y1="69.7" x2="955.3" y2="72.1" stroke="#777" stroke-width="1" />
<text transform="translate(873,105) rotate(-29)" font-size="14.6" text-anchor="middle" fill="#111">iodinated</text>
<text transform="translate(925.5,94) rotate(-29)" font-size="14.6" text-anchor="middle" fill="#111">non-</text>
<text transform="translate(934,109.5) rotate(-29)" font-size="14.6" text-anchor="middle" fill="#111">iodinated</text>
<defs><filter id="bd1" x="-20%" y="-30%" width="140%" height="160%"><feGaussianBlur stdDeviation="1.7"/></filter>
<filter id="bd2" x="-20%" y="-30%" width="140%" height="160%"><feGaussianBlur stdDeviation="3"/></filter>
<clipPath id="cd1"><rect x="818.5" y="136.5" width="125.6" height="48.7"/></clipPath>
<clipPath id="cd2"><rect x="819.2" y="193.4" width="124.5" height="30"/></clipPath></defs>
<defs><linearGradient id="gd1" x1="0" x2="1" y1="0" y2="0"><stop offset="0" stop-color="#e9e9e9"/><stop offset="0.45" stop-color="#f3f3f3"/><stop offset="1" stop-color="#f8f8f8"/></linearGradient></defs>
<rect x="818.5" y="136.5" width="125.6" height="48.7" fill="url(#gd1)"/>
<g clip-path="url(#cd1)">
<rect x="829.6" y="130" width="37" height="24" fill="#3c3c3c" filter="url(#bd1)" opacity="0.92"/>
<rect x="830" y="163" width="36.2" height="20" fill="#6c6c6c" filter="url(#bd2)" opacity="0.75"/>
<rect x="829.4" y="150.5" width="37.6" height="15.5" fill="#060606" filter="url(#bd1)"/>
<rect x="830.5" y="153" width="35.5" height="11" fill="#000" filter="url(#bd1)"/>
</g>
<rect x="818.5" y="136.5" width="125.6" height="48.7" fill="none" stroke="#5c5252" stroke-width="1.2"/>
<rect x="819.2" y="193.4" width="124.5" height="30" fill="#e7e7e7"/>
<g clip-path="url(#cd2)">
<rect x="828.5" y="199" width="39.8" height="22.5" fill="#5a5a5a" filter="url(#bd2)" opacity="0.6"/>
<rect x="883.2" y="199" width="39.8" height="22.5" fill="#5a5a5a" filter="url(#bd2)" opacity="0.6"/>
<rect x="830" y="206" width="37.2" height="9.6" fill="#050505" filter="url(#bd1)"/>
<rect x="884.6" y="206.2" width="37.4" height="9.2" fill="#050505" filter="url(#bd1)"/>
<rect x="832" y="208" width="33.5" height="6" fill="#000" filter="url(#bd1)"/>
<rect x="886.5" y="208" width="34" height="6" fill="#000" filter="url(#bd1)"/>
</g>
<rect x="819.2" y="193.4" width="124.5" height="30" fill="none" stroke="#5c5252" stroke-width="1.2"/>
<text x="786.7" y="166.8" font-size="14.6" text-anchor="middle" fill="#111" >Anti-T3</text>
<text x="786.7" y="215" font-size="14.6" text-anchor="middle" fill="#111" >Anti-GFP</text>
<text x="946.2" y="148.2" font-size="11.6" fill="#111" >-180 kDa</text>
<text x="946.2" y="175" font-size="11.6" fill="#111" >-130 kDa</text>
<text x="946.2" y="200.5" font-size="11.6" fill="#111" >-180 kDa</text>
<text x="946.2" y="218.8" font-size="11.6" fill="#111" >-130 kDa</text>
</g>
<!-- panel_e -->
<g>
<text x="361" y="315" font-size="20.5" font-weight="bold" fill="#000" >e</text>
<defs><linearGradient id="ge" x1="0" x2="1" y1="0" y2="0"><stop offset="0.01" stop-color="#ffffff"/><stop offset="0.30" stop-color="#ff807b"/><stop offset="0.70" stop-color="#ff807b"/><stop offset="0.99" stop-color="#ffffff"/></linearGradient></defs>
<rect x="418" y="327.2" width="544" height="35.4" fill="url(#ge)"/>
<line x1="418.4" y1="365.1" x2="955" y2="365.1" stroke="#111" stroke-width="2.3" />
<polygon points="961.8,365.1 954,362.3 954,367.9" fill="#111"/>
<circle cx="428.4" cy="313" r="11.2" fill="#fff" stroke="#2a3550" stroke-width="0.8"/>
<circle cx="429.8" cy="312" r="8.6" fill="#fae0d0" stroke="#1c1c24" stroke-width="1.2"/>
<path d="M588.41 312.72C588.41 311.02 588.86 308.96 589.61 307.61C590.36 306.26 591.61 305.21 592.91 304.61C594.21 304.01 596.12 303.93 597.42 304.01C598.72 304.09 599.77 304.63 600.72 305.09C601.67 305.55 602.17 306.69 603.12 306.77C604.07 306.85 604.97 305.88 606.43 305.57C607.88 305.26 609.83 304.87 611.83 304.91C613.83 304.95 616.54 305.26 618.44 305.81C620.34 306.36 621.94 307.31 623.24 308.21C624.54 309.11 625.7 310.32 626.25 311.22C626.8 312.12 626.85 312.72 626.55 313.62C626.25 314.52 625.5 315.77 624.44 316.62C623.39 317.47 622.04 318.17 620.24 318.72C618.44 319.27 615.84 319.77 613.63 319.92C611.43 320.08 608.73 319.83 607.03 319.62C605.33 319.41 604.47 318.52 603.42 318.66C602.37 318.8 601.82 319.97 600.72 320.47C599.62 320.96 598.17 321.6 596.82 321.61C595.47 321.62 593.81 321.16 592.61 320.53C591.41 319.89 590.31 319.12 589.61 317.82C588.91 316.52 588.41 314.42 588.41 312.72Z" fill="#fae0d0" stroke="#2b3044" stroke-width="1"/>
<path d="M754.5 302.5C754.75 302.02 755.23 301.08 755.98 299.6C756.73 298.12 757.43 295.53 759 293.6C760.57 291.67 763 289.27 765.4 288C767.8 286.73 770.73 286.07 773.4 286C776.07 285.93 778.73 286.47 781.4 287.6C784.07 288.73 786.72 290.47 789.4 292.8C792.08 295.13 795.35 298.53 797.5 301.6C799.65 304.67 801.27 308.53 802.3 311.2C803.33 313.87 803.57 316.07 803.7 317.6C803.83 319.13 803.2 319.93 803.1 320.4L802.7 320C802.23 319.07 801.18 316.8 799.9 314.4C798.62 312 796.88 308.33 795 305.6C793.12 302.87 790.87 300.07 788.6 298C786.33 295.93 783.67 294.17 781.4 293.2C779.13 292.23 777.13 292.07 775 292.2C772.87 292.33 770.6 292.97 768.6 294C766.6 295.03 764.47 296.73 763 298.4C761.53 300.07 760.63 302.57 759.8 304C758.97 305.43 758.3 306.5 758 307Z" fill="#fae0d0" stroke="#2b3044" stroke-width="1" stroke-linejoin="round"/>
<circle cx="752.05" cy="308.4" r="8.8" fill="#fae0d0" stroke="#2b3044" stroke-width="1"/>
<path d="M895.21 311.62C895.41 310.32 895.91 308.27 897.01 306.81C898.11 305.36 900.12 303.86 901.82 302.91C903.52 301.96 905.32 301.41 907.22 301.11C909.12 300.81 911.53 300.91 913.23 301.11C914.93 301.31 916.23 301.66 917.43 302.31C918.63 302.96 919.33 304.31 920.44 305.01C921.54 305.71 922.74 306.16 924.04 306.51C925.34 306.86 927.14 306.76 928.24 307.11C929.34 307.46 930.2 307.76 930.65 308.62C931.1 309.47 931.1 311.17 930.95 312.22C930.8 313.27 930.5 314.27 929.74 314.92C928.99 315.57 927.89 315.92 926.44 316.12C924.99 316.32 922.54 315.77 921.04 316.12C919.53 316.47 918.73 317.42 917.43 318.23C916.13 319.03 914.73 320.23 913.23 320.93C911.73 321.63 910.13 322.33 908.42 322.43C906.72 322.53 904.72 322.23 903.02 321.53C901.32 320.83 899.41 319.38 898.21 318.23C897.01 317.07 896.31 315.72 895.81 314.62C895.31 313.52 895.01 312.92 895.21 311.62Z" fill="#fae0d0" stroke="#2b3044" stroke-width="1"/>
<text x="428.4" y="344.4" font-size="10.9" text-anchor="middle" fill="#111" >0 hpf</text>
<text x="428.4" y="354" font-size="7.7" text-anchor="middle" fill="#222" >(1-cell)</text>
<text x="604.7" y="344.4" font-size="10.9" text-anchor="middle" fill="#111" >10 hpf</text>
<text x="604.7" y="354" font-size="7.7" text-anchor="middle" fill="#222" >(tail bud)</text>
<text x="730.3" y="338.8" font-size="10.9" text-anchor="middle" fill="#111" >16 hpf</text>
<text x="730.3" y="348.8" font-size="7.7" text-anchor="middle" fill="#222" >(initial hatched</text>
<text x="730.3" y="358.1" font-size="7.7" text-anchor="middle" fill="#222" >swimming larva)</text>
<text x="815.6" y="344.4" font-size="10.9" text-anchor="middle" fill="#111" >18 hpf</text>
<text x="815.6" y="354" font-size="7.7" text-anchor="middle" fill="#222" >(swimming larva)</text>
<text x="913.6" y="344.4" font-size="10.9" text-anchor="middle" fill="#111" >21 hpf</text>
<text x="913.6" y="354" font-size="7.7" text-anchor="middle" fill="#222" >(tail regressed larva)</text>
<line x1="607.3" y1="377.3" x2="699.6" y2="377.3" stroke="#333" stroke-width="0.9" />
<line x1="607.3" y1="373.7" x2="607.3" y2="381" stroke="#333" stroke-width="0.9" />
<line x1="817.2" y1="377.3" x2="910.4" y2="377.3" stroke="#333" stroke-width="0.9" />
<line x1="910.4" y1="373.7" x2="910.4" y2="381" stroke="#333" stroke-width="0.9" />
<text x="759" y="382" font-size="12.6" text-anchor="middle" fill="#111" >siRNA treatment</text>
<line x1="813.3" y1="392.2" x2="813.3" y2="399.6" stroke="#333" stroke-width="0.9" />
<line x1="910.4" y1="392.2" x2="910.4" y2="399.6" stroke="#333" stroke-width="0.9" />
<text x="862" y="401.3" font-size="12.6" text-anchor="middle" fill="#111" >T3 treatment</text>
<text x="965.5" y="383.6" font-size="10.5" text-anchor="middle" fill="#111" >18°C</text>
</g>
<!-- charts -->
<g>
<rect x="448.9" y="485.9" width="18.1" height="80.7" fill="#0b12ee" stroke="#111" stroke-width="1.4"/>
<rect x="475.2" y="490.4" width="17.9" height="76.2" fill="#5fc8fb" stroke="#111" stroke-width="1.4"/>
<rect x="501" y="531.7" width="18.1" height="34.9" fill="#ffff2a" stroke="#111" stroke-width="1.4"/>
<rect x="527.1" y="539.7" width="18.1" height="26.9" fill="#f00f0f" stroke="#111" stroke-width="1.4"/>
<line x1="437.2" y1="443.2" x2="437.2" y2="567.2" stroke="#111" stroke-width="1.3" />
<line x1="436.6" y1="566.6" x2="556.7" y2="566.6" stroke="#111" stroke-width="1.3" />
<line x1="432.6" y1="443.8" x2="437.2" y2="443.8" stroke="#111" stroke-width="1.3" />
<text x="430.8" y="447.2" font-size="9.6" text-anchor="end" fill="#111" >1.5</text>
<line x1="432.6" y1="485.2" x2="437.2" y2="485.2" stroke="#111" stroke-width="1.3" />
<text x="430.8" y="488.6" font-size="9.6" text-anchor="end" fill="#111" >1.0</text>
<line x1="432.6" y1="526" x2="437.2" y2="526" stroke="#111" stroke-width="1.3" />
<text x="430.8" y="529.4" font-size="9.6" text-anchor="end" fill="#111" >0.5</text>
<line x1="432.6" y1="566.6" x2="437.2" y2="566.6" stroke="#111" stroke-width="1.3" />
<text x="430.8" y="570" font-size="9.6" text-anchor="end" fill="#111" >0.0</text>
<text transform="translate(412.4,504) rotate(-90)" font-size="10" text-anchor="middle" fill="#111">Relative Expression</text>
<line x1="484.1" y1="482.7" x2="484.1" y2="494.7" stroke="#111" stroke-width="1.4" />
<line x1="478.5" y1="482.7" x2="489.7" y2="482.7" stroke="#111" stroke-width="1.4" />
<line x1="478.5" y1="494.7" x2="489.7" y2="494.7" stroke="#111" stroke-width="1.4" />
<line x1="510" y1="510.2" x2="510" y2="550.3" stroke="#111" stroke-width="1.4" />
<line x1="504.4" y1="510.2" x2="515.6" y2="510.2" stroke="#111" stroke-width="1.4" />
<line x1="504.4" y1="550.3" x2="515.6" y2="550.3" stroke="#111" stroke-width="1.4" />
<line x1="536.1" y1="516" x2="536.1" y2="560.9" stroke="#111" stroke-width="1.4" />
<line x1="530.5" y1="516" x2="541.7" y2="516" stroke="#111" stroke-width="1.4" />
<line x1="530.5" y1="560.9" x2="541.7" y2="560.9" stroke="#111" stroke-width="1.4" />
<circle cx="450.9" cy="485.2" r="2.3" fill="#111"/>
<circle cx="457.9" cy="485.2" r="2.3" fill="#111"/>
<circle cx="465.2" cy="485.2" r="2.3" fill="#111"/>
<circle cx="484" cy="482.5" r="2.3" fill="#111"/>
<circle cx="491.5" cy="489.7" r="2.3" fill="#111"/>
<circle cx="476.7" cy="494.7" r="2.3" fill="#111"/>
<circle cx="509.8" cy="507.2" r="2.3" fill="#111"/>
<circle cx="502.5" cy="542.8" r="2.3" fill="#111"/>
<circle cx="517.3" cy="541.6" r="2.3" fill="#111"/>
<circle cx="535.9" cy="513.2" r="2.3" fill="#111"/>
<circle cx="535.9" cy="547.3" r="2.3" fill="#111"/>
<circle cx="535.9" cy="555.8" r="2.3" fill="#111"/>
<path d="M457.7 472.7L457.7 467.1L484 467.1L484 472.7" fill="none" stroke="#111" stroke-width="1.15"/>
<text x="470.8" y="461.3" font-size="5.6" text-anchor="middle" fill="#222"><tspan font-style="italic">p</tspan> = 0.3065</text>
<path d="M487.8 472.7L487.8 467.1L511 467.1L511 472.7" fill="none" stroke="#111" stroke-width="1.15"/>
<text x="499.4" y="461.3" font-size="5.6" text-anchor="middle" fill="#222"><tspan font-style="italic">p</tspan> = 0.0265</text>
<path d="M487.8 453.1L487.8 447.1L537.1 447.1L537.1 453.1" fill="none" stroke="#111" stroke-width="1.15"/>
<text x="512.3" y="441.3" font-size="5.6" text-anchor="middle" fill="#222"><tspan font-style="italic">p</tspan> = 0.021</text>
<line x1="457.95" y1="566.6" x2="457.95" y2="571.2" stroke="#111" stroke-width="1.3" />
<text transform="translate(461.55,576.8) rotate(-45)" font-size="10.5" text-anchor="end" fill="#111">FSW</text>
<line x1="484.15" y1="566.6" x2="484.15" y2="571.2" stroke="#111" stroke-width="1.3" />
<text transform="translate(487.75,576.8) rotate(-45)" font-size="10.5" text-anchor="end" fill="#111">NC</text>
<line x1="510.05" y1="566.6" x2="510.05" y2="571.2" stroke="#111" stroke-width="1.3" />
<text transform="translate(513.65,576.8) rotate(-45)" font-size="10.5" text-anchor="end" fill="#111">siRNA-1</text>
<line x1="536.15" y1="566.6" x2="536.15" y2="571.2" stroke="#111" stroke-width="1.3" />
<text transform="translate(539.75,576.8) rotate(-45)" font-size="10.5" text-anchor="end" fill="#111">siRNA-2</text>
<rect x="654.1" y="495.4" width="12.9" height="70.7" fill="#0b12ee" stroke="#111" stroke-width="1.4"/>
<rect x="673.4" y="505.2" width="13.1" height="60.9" fill="#5fc8fb" stroke="#111" stroke-width="1.4"/>
<rect x="693" y="541.7" width="12.8" height="24.4" fill="#ff7f0e" stroke="#111" stroke-width="1.4"/>
<rect x="712.2" y="546.5" width="12.9" height="19.6" fill="#ffff2a" stroke="#111" stroke-width="1.4"/>
<rect x="731.8" y="539.7" width="12.9" height="26.4" fill="#f00f0f" stroke="#111" stroke-width="1.4"/>
<line x1="645.6" y1="457" x2="645.6" y2="566.7" stroke="#111" stroke-width="1.3" />
<line x1="645" y1="566.1" x2="753.4" y2="566.1" stroke="#111" stroke-width="1.3" />
<line x1="641" y1="457.6" x2="645.6" y2="457.6" stroke="#111" stroke-width="1.3" />
<text x="639.2" y="461" font-size="9.6" text-anchor="end" fill="#111" >150</text>
<line x1="641" y1="494" x2="645.6" y2="494" stroke="#111" stroke-width="1.3" />
<text x="639.2" y="497.4" font-size="9.6" text-anchor="end" fill="#111" >100</text>
<line x1="641" y1="529.8" x2="645.6" y2="529.8" stroke="#111" stroke-width="1.3" />
<text x="639.2" y="533.2" font-size="9.6" text-anchor="end" fill="#111" >50</text>
<line x1="641" y1="566.1" x2="645.6" y2="566.1" stroke="#111" stroke-width="1.3" />
<text x="639.2" y="569.5" font-size="9.6" text-anchor="end" fill="#111" >0</text>
<text transform="translate(618.7,510.9) rotate(-90)" font-size="10.2" text-anchor="middle" fill="#111">Concentration of T4 (ng/mL)</text>
<line x1="660.7" y1="468.9" x2="660.7" y2="520.8" stroke="#111" stroke-width="1.4" />
<line x1="655.7" y1="468.9" x2="665.7" y2="468.9" stroke="#111" stroke-width="1.4" />
<line x1="655.7" y1="520.8" x2="665.7" y2="520.8" stroke="#111" stroke-width="1.4" />
<line x1="680" y1="484.7" x2="680" y2="522.8" stroke="#111" stroke-width="1.4" />
<line x1="675" y1="484.7" x2="685" y2="484.7" stroke="#111" stroke-width="1.4" />
<line x1="675" y1="522.8" x2="685" y2="522.8" stroke="#111" stroke-width="1.4" />
<line x1="699.4" y1="526.5" x2="699.4" y2="554.8" stroke="#111" stroke-width="1.4" />
<line x1="694.4" y1="526.5" x2="704.4" y2="526.5" stroke="#111" stroke-width="1.4" />
<line x1="694.4" y1="554.8" x2="704.4" y2="554.8" stroke="#111" stroke-width="1.4" />
<line x1="718.7" y1="534.5" x2="718.7" y2="555.3" stroke="#111" stroke-width="1.4" />
<line x1="713.7" y1="534.5" x2="723.7" y2="534.5" stroke="#111" stroke-width="1.4" />
<line x1="713.7" y1="555.3" x2="723.7" y2="555.3" stroke="#111" stroke-width="1.4" />
<line x1="738.2" y1="522.8" x2="738.2" y2="554.8" stroke="#111" stroke-width="1.4" />
<line x1="733.2" y1="522.8" x2="743.2" y2="522.8" stroke="#111" stroke-width="1.4" />
<line x1="733.2" y1="554.8" x2="743.2" y2="554.8" stroke="#111" stroke-width="1.4" />
<circle cx="660.7" cy="470.1" r="2.3" fill="#111"/>
<circle cx="660.7" cy="491.4" r="2.3" fill="#111"/>
<circle cx="660.7" cy="520.8" r="2.3" fill="#111"/>
<circle cx="680" cy="482.7" r="2.3" fill="#111"/>
<circle cx="680" cy="512.7" r="2.3" fill="#111"/>
<circle cx="680" cy="517.2" r="2.3" fill="#111"/>
<circle cx="694" cy="532" r="2.3" fill="#111"/>
<circle cx="704.5" cy="533.3" r="2.3" fill="#111"/>
<circle cx="699.3" cy="556.6" r="2.3" fill="#111"/>
<circle cx="713.3" cy="539" r="2.3" fill="#111"/>
<circle cx="724.1" cy="540.3" r="2.3" fill="#111"/>
<circle cx="718.6" cy="556.6" r="2.3" fill="#111"/>
<circle cx="738.1" cy="524.5" r="2.3" fill="#111"/>
<circle cx="738.1" cy="535.3" r="2.3" fill="#111"/>
<circle cx="738.1" cy="554.6" r="2.3" fill="#111"/>
<path d="M654.4 465.1L654.4 459.6L674.7 459.6L674.7 465.1" fill="none" stroke="#111" stroke-width="1.15"/>
<text x="663.4" y="454.3" font-size="5.6" text-anchor="middle" fill="#222"><tspan font-style="italic">p</tspan> = 0.6284</text>
<path d="M684.5 465.1L684.5 459.6L701.5 459.6L701.5 465.1" fill="none" stroke="#111" stroke-width="1.15"/>
<text x="692.3" y="454.3" font-size="5.6" text-anchor="middle" fill="#222"><tspan font-style="italic">p</tspan> = 0.027</text>
<path d="M681.5 447.1L681.5 442.1L718.6 442.1L718.6 447.1" fill="none" stroke="#111" stroke-width="1.15"/>
<text x="699.8" y="436.7" font-size="5.6" text-anchor="middle" fill="#222"><tspan font-style="italic">p</tspan> = 0.0294</text>
<path d="M681.5 432.6L681.5 427L736.6 427L736.6 432.6" fill="none" stroke="#111" stroke-width="1.15"/>
<text x="709" y="421" font-size="5.6" text-anchor="middle" fill="#222"><tspan font-style="italic">p</tspan> = 0.0353</text>
<line x1="660.55" y1="566.1" x2="660.55" y2="570.7" stroke="#111" stroke-width="1.3" />
<text transform="translate(664.15,576.3) rotate(-45)" font-size="10.9" text-anchor="end" fill="#111">FSW</text>
<line x1="679.95" y1="566.1" x2="679.95" y2="570.7" stroke="#111" stroke-width="1.3" />
<text transform="translate(683.55,576.3) rotate(-45)" font-size="10.9" text-anchor="end" fill="#111">NC</text>
<line x1="699.4" y1="566.1" x2="699.4" y2="570.7" stroke="#111" stroke-width="1.3" />
<text transform="translate(703,576.3) rotate(-45)" font-size="10.9" text-anchor="end" fill="#111">MMI</text>
<line x1="718.65" y1="566.1" x2="718.65" y2="570.7" stroke="#111" stroke-width="1.3" />
<text transform="translate(722.25,576.3) rotate(-45)" font-size="10.9" text-anchor="end" fill="#111">siRNA-1</text>
<line x1="738.25" y1="566.1" x2="738.25" y2="570.7" stroke="#111" stroke-width="1.3" />
<text transform="translate(741.85,576.3) rotate(-45)" font-size="10.9" text-anchor="end" fill="#111">siRNA-2</text>
<rect x="866.6" y="475.4" width="12.9" height="90" fill="#0b12ee" stroke="#111" stroke-width="1.4"/>
<rect x="886.2" y="479.1" width="12.9" height="86.3" fill="#5fc8fb" stroke="#111" stroke-width="1.4"/>
<rect x="905.5" y="519" width="12.6" height="46.4" fill="#ff7f0e" stroke="#111" stroke-width="1.4"/>
<rect x="925" y="507.9" width="12.9" height="57.5" fill="#ffff2a" stroke="#111" stroke-width="1.4"/>
<rect x="944.3" y="521" width="12.7" height="44.4" fill="#f00f0f" stroke="#111" stroke-width="1.4"/>
<line x1="858.4" y1="456.3" x2="858.4" y2="566" stroke="#111" stroke-width="1.3" />
<line x1="857.8" y1="565.4" x2="966.2" y2="565.4" stroke="#111" stroke-width="1.3" />
<line x1="853.8" y1="456.9" x2="858.4" y2="456.9" stroke="#111" stroke-width="1.3" />
<text x="852" y="460.3" font-size="9.6" text-anchor="end" fill="#111" >0.5</text>
<line x1="853.8" y1="478.4" x2="858.4" y2="478.4" stroke="#111" stroke-width="1.3" />
<text x="852" y="481.8" font-size="9.6" text-anchor="end" fill="#111" >0.4</text>
<line x1="853.8" y1="500.2" x2="858.4" y2="500.2" stroke="#111" stroke-width="1.3" />
<text x="852" y="503.6" font-size="9.6" text-anchor="end" fill="#111" >0.3</text>
<line x1="853.8" y1="522" x2="858.4" y2="522" stroke="#111" stroke-width="1.3" />
<text x="852" y="525.4" font-size="9.6" text-anchor="end" fill="#111" >0.2</text>
<line x1="853.8" y1="543.6" x2="858.4" y2="543.6" stroke="#111" stroke-width="1.3" />
<text x="852" y="547" font-size="9.6" text-anchor="end" fill="#111" >0.1</text>
<line x1="853.8" y1="565.4" x2="858.4" y2="565.4" stroke="#111" stroke-width="1.3" />
<text x="852" y="568.8" font-size="9.6" text-anchor="end" fill="#111" >0.0</text>
<text transform="translate(828.2,510.2) rotate(-90)" font-size="10.25" text-anchor="middle" fill="#111">Concentration of T3 (ng/mL)</text>
<line x1="892.6" y1="475.9" x2="892.6" y2="480.2" stroke="#111" stroke-width="1.4" />
<line x1="887.6" y1="475.9" x2="897.6" y2="475.9" stroke="#111" stroke-width="1.4" />
<line x1="887.6" y1="480.2" x2="897.6" y2="480.2" stroke="#111" stroke-width="1.4" />
<line x1="911.8" y1="496.5" x2="911.8" y2="539.6" stroke="#111" stroke-width="1.4" />
<line x1="906.8" y1="496.5" x2="916.8" y2="496.5" stroke="#111" stroke-width="1.4" />
<line x1="906.8" y1="539.6" x2="916.8" y2="539.6" stroke="#111" stroke-width="1.4" />
<line x1="931.4" y1="490.7" x2="931.4" y2="523.3" stroke="#111" stroke-width="1.4" />
<line x1="926.4" y1="490.7" x2="936.4" y2="490.7" stroke="#111" stroke-width="1.4" />
<line x1="926.4" y1="523.3" x2="936.4" y2="523.3" stroke="#111" stroke-width="1.4" />
<line x1="950.7" y1="494.7" x2="950.7" y2="544.8" stroke="#111" stroke-width="1.4" />
<line x1="945.7" y1="494.7" x2="955.7" y2="494.7" stroke="#111" stroke-width="1.4" />
<line x1="945.7" y1="544.8" x2="955.7" y2="544.8" stroke="#111" stroke-width="1.4" />
<circle cx="868.7" cy="474.7" r="2.3" fill="#111"/>
<circle cx="873.2" cy="474.7" r="2.3" fill="#111"/>
<circle cx="878" cy="474.7" r="2.3" fill="#111"/>
<circle cx="887.5" cy="475.9" r="2.3" fill="#111"/>
<circle cx="897.5" cy="477.7" r="2.3" fill="#111"/>
<circle cx="889.2" cy="480.2" r="2.3" fill="#111"/>
<circle cx="911.8" cy="502.2" r="2.3" fill="#111"/>
<circle cx="911.8" cy="509" r="2.3" fill="#111"/>
<circle cx="911.8" cy="542" r="2.3" fill="#111"/>
<circle cx="926.1" cy="497.2" r="2.3" fill="#111"/>
<circle cx="936.4" cy="497.7" r="2.3" fill="#111"/>
<circle cx="931.3" cy="525.8" r="2.3" fill="#111"/>
<circle cx="950.6" cy="493.2" r="2.3" fill="#111"/>
<circle cx="950.6" cy="525.3" r="2.3" fill="#111"/>
<circle cx="950.6" cy="542.3" r="2.3" fill="#111"/>
<path d="M867.2 467.6L867.2 462.1L887.2 462.1L887.2 467.6" fill="none" stroke="#111" stroke-width="1.15"/>
<text x="877" y="456.8" font-size="5.6" text-anchor="middle" fill="#222"><tspan font-style="italic">p</tspan> = 0.0999</text>
<path d="M895.5 467.6L895.5 462.1L913.6 462.1L913.6 467.6" fill="none" stroke="#111" stroke-width="1.15"/>
<text x="903.8" y="456.8" font-size="5.6" text-anchor="middle" fill="#222"><tspan font-style="italic">p</tspan> = 0.0331</text>
<path d="M894.8 450.1L894.8 443.8L928.8 443.8L928.8 450.1" fill="none" stroke="#111" stroke-width="1.15"/>
<text x="911.8" y="438.8" font-size="5.6" text-anchor="middle" fill="#222"><tspan font-style="italic">p</tspan> = 0.0409</text>
<path d="M894.8 434.6L894.8 427L948.9 427L948.9 434.6" fill="none" stroke="#111" stroke-width="1.15"/>
<text x="921.8" y="421.2" font-size="5.6" text-anchor="middle" fill="#222"><tspan font-style="italic">p</tspan> = 0.0449</text>
<line x1="873.05" y1="565.4" x2="873.05" y2="570" stroke="#111" stroke-width="1.3" />
<text transform="translate(876.65,575.6) rotate(-45)" font-size="11" text-anchor="end" fill="#111">FSW</text>
<line x1="892.65" y1="565.4" x2="892.65" y2="570" stroke="#111" stroke-width="1.3" />
<text transform="translate(896.25,575.6) rotate(-45)" font-size="11" text-anchor="end" fill="#111">NC</text>
<line x1="911.8" y1="565.4" x2="911.8" y2="570" stroke="#111" stroke-width="1.3" />
<text transform="translate(915.4,575.6) rotate(-45)" font-size="11" text-anchor="end" fill="#111">MMI</text>
<line x1="931.45" y1="565.4" x2="931.45" y2="570" stroke="#111" stroke-width="1.3" />
<text transform="translate(935.05,575.6) rotate(-45)" font-size="11" text-anchor="end" fill="#111">siRNA-1</text>
<line x1="950.65" y1="565.4" x2="950.65" y2="570" stroke="#111" stroke-width="1.3" />
<text transform="translate(954.25,575.6) rotate(-45)" font-size="11" text-anchor="end" fill="#111">siRNA-2</text>
<rect x="839.6" y="666" width="15.4" height="94.6" fill="#0b12ee" stroke="#111" stroke-width="1.4"/>
<rect x="861.5" y="676.6" width="14.5" height="84" fill="#5fc8fb" stroke="#111" stroke-width="1.4"/>
<rect x="882.8" y="713.9" width="14.6" height="46.7" fill="#ffff2a" stroke="#111" stroke-width="1.4"/>
<rect x="904.1" y="674.7" width="14.6" height="85.9" fill="#ffff2a" stroke="#111" stroke-width="1.4"/>
<rect x="925.4" y="725.9" width="14.6" height="34.7" fill="#f00f0f" stroke="#111" stroke-width="1.4"/>
<rect x="946.7" y="681.9" width="14.6" height="78.7" fill="#f00f0f" stroke="#111" stroke-width="1.4"/>
<line x1="833.6" y1="638" x2="833.6" y2="761.2" stroke="#111" stroke-width="1.3" />
<line x1="833" y1="760.6" x2="970.8" y2="760.6" stroke="#111" stroke-width="1.3" />
<line x1="829" y1="638.6" x2="833.6" y2="638.6" stroke="#111" stroke-width="1.3" />
<text x="827.2" y="642" font-size="10" text-anchor="end" fill="#111" >100</text>
<line x1="829" y1="663.1" x2="833.6" y2="663.1" stroke="#111" stroke-width="1.3" />
<text x="827.2" y="666.5" font-size="10" text-anchor="end" fill="#111" >80</text>
<line x1="829" y1="687.4" x2="833.6" y2="687.4" stroke="#111" stroke-width="1.3" />
<text x="827.2" y="690.8" font-size="10" text-anchor="end" fill="#111" >60</text>
<line x1="829" y1="711.9" x2="833.6" y2="711.9" stroke="#111" stroke-width="1.3" />
<text x="827.2" y="715.3" font-size="10" text-anchor="end" fill="#111" >40</text>
<line x1="829" y1="736.4" x2="833.6" y2="736.4" stroke="#111" stroke-width="1.3" />
<text x="827.2" y="739.8" font-size="10" text-anchor="end" fill="#111" >20</text>
<line x1="829" y1="760.6" x2="833.6" y2="760.6" stroke="#111" stroke-width="1.3" />
<text x="827.2" y="764" font-size="10" text-anchor="end" fill="#111" >0</text>
<text transform="translate(797.9,698.5) rotate(-90)" font-size="10.2" text-anchor="middle" fill="#111">% of metamorphic larva</text>
<line x1="847.5" y1="645.8" x2="847.5" y2="684.7" stroke="#111" stroke-width="1.4" />
<line x1="842.3" y1="645.8" x2="852.7" y2="645.8" stroke="#111" stroke-width="1.4" />
<line x1="842.3" y1="684.7" x2="852.7" y2="684.7" stroke="#111" stroke-width="1.4" />
<line x1="868.8" y1="660.5" x2="868.8" y2="691.1" stroke="#111" stroke-width="1.4" />
<line x1="863.6" y1="660.5" x2="874" y2="660.5" stroke="#111" stroke-width="1.4" />
<line x1="863.6" y1="691.1" x2="874" y2="691.1" stroke="#111" stroke-width="1.4" />
<line x1="890.1" y1="693.8" x2="890.1" y2="732.4" stroke="#111" stroke-width="1.4" />
<line x1="884.9" y1="693.8" x2="895.3" y2="693.8" stroke="#111" stroke-width="1.4" />
<line x1="884.9" y1="732.4" x2="895.3" y2="732.4" stroke="#111" stroke-width="1.4" />
<line x1="911.4" y1="665.8" x2="911.4" y2="682" stroke="#111" stroke-width="1.4" />
<line x1="906.2" y1="665.8" x2="916.6" y2="665.8" stroke="#111" stroke-width="1.4" />
<line x1="906.2" y1="682" x2="916.6" y2="682" stroke="#111" stroke-width="1.4" />
<line x1="932.7" y1="716.4" x2="932.7" y2="732.4" stroke="#111" stroke-width="1.4" />
<line x1="927.5" y1="716.4" x2="937.9" y2="716.4" stroke="#111" stroke-width="1.4" />
<line x1="927.5" y1="732.4" x2="937.9" y2="732.4" stroke="#111" stroke-width="1.4" />
<line x1="954" y1="668.7" x2="954" y2="692.7" stroke="#111" stroke-width="1.4" />
<line x1="948.8" y1="668.7" x2="959.2" y2="668.7" stroke="#111" stroke-width="1.4" />
<line x1="948.8" y1="692.7" x2="959.2" y2="692.7" stroke="#111" stroke-width="1.4" />
<circle cx="841.6" cy="651.9" r="2.2" fill="#111"/>
<circle cx="853.6" cy="649.8" r="2.2" fill="#111"/>
<circle cx="841.6" cy="659.1" r="2.2" fill="#111"/>
<circle cx="853.6" cy="659.1" r="2.2" fill="#111"/>
<circle cx="848.2" cy="668.7" r="2.2" fill="#111"/>
<circle cx="847.7" cy="702.5" r="2.2" fill="#111"/>
<circle cx="862.9" cy="663.9" r="2.2" fill="#111"/>
<circle cx="874.9" cy="660.7" r="2.2" fill="#111"/>
<circle cx="874.9" cy="667.9" r="2.2" fill="#111"/>
<circle cx="872.2" cy="677.2" r="2.2" fill="#111"/>
<circle cx="868.8" cy="683.9" r="2.2" fill="#111"/>
<circle cx="868.8" cy="701.2" r="2.2" fill="#111"/>
<circle cx="896.2" cy="691.9" r="2.2" fill="#111"/>
<circle cx="884.2" cy="695.4" r="2.2" fill="#111"/>
<circle cx="896.2" cy="709.2" r="2.2" fill="#111"/>
<circle cx="884.2" cy="711.9" r="2.2" fill="#111"/>
<circle cx="890.1" cy="723.1" r="2.2" fill="#111"/>
<circle cx="890.1" cy="745.2" r="2.2" fill="#111"/>
<circle cx="911.4" cy="660.7" r="2.2" fill="#111"/>
<circle cx="905" cy="669.8" r="2.2" fill="#111"/>
<circle cx="911.4" cy="674.6" r="2.2" fill="#111"/>
<circle cx="917.5" cy="675.9" r="2.2" fill="#111"/>
<circle cx="906.8" cy="678.6" r="2.2" fill="#111"/>
<circle cx="916.2" cy="679.4" r="2.2" fill="#111"/>
<circle cx="932.2" cy="710.5" r="2.2" fill="#111"/>
<circle cx="938.8" cy="723.9" r="2.2" fill="#111"/>
<circle cx="926.8" cy="727.3" r="2.2" fill="#111"/>
<circle cx="932.7" cy="727.8" r="2.2" fill="#111"/>
<circle cx="937.5" cy="729.2" r="2.2" fill="#111"/>
<circle cx="929.5" cy="730.5" r="2.2" fill="#111"/>
<circle cx="947.6" cy="670.6" r="2.2" fill="#111"/>
<circle cx="960.1" cy="669.8" r="2.2" fill="#111"/>
<circle cx="954" cy="678.6" r="2.2" fill="#111"/>
<circle cx="952.1" cy="685.8" r="2.2" fill="#111"/>
<circle cx="954.8" cy="690.6" r="2.2" fill="#111"/>
<circle cx="954" cy="699.9" r="2.2" fill="#111"/>
<path d="M847.7 633.3L847.7 626.6L865.6 626.6L865.6 633.3" fill="none" stroke="#111" stroke-width="1.15"/>
<text x="856.5" y="621.1" font-size="5.6" text-anchor="middle" fill="#222"><tspan font-style="italic">p</tspan> = 0.313</text>
<path d="M868.8 633.3L868.8 626.6L932.7 626.6L932.7 633.3" fill="none" stroke="#111" stroke-width="1.15"/>
<text x="899.7" y="621.1" font-size="5.6" text-anchor="middle" fill="#222"><tspan font-style="italic">p</tspan> &lt; 0.0001</text>
<path d="M866.9 655.4L866.9 649.3L883.7 649.3L883.7 655.4" fill="none" stroke="#111" stroke-width="1.15"/>
<text x="874.1" y="643.5" font-size="5.6" text-anchor="middle" fill="#222"><tspan font-style="italic">p</tspan> = 0.0041</text>
<path d="M892.2 655.4L892.2 649.3L916.2 649.3L916.2 655.4" fill="none" stroke="#111" stroke-width="1.15"/>
<text x="904.2" y="643.5" font-size="5.6" text-anchor="middle" fill="#222"><tspan font-style="italic">p</tspan> = 0.001</text>
<path d="M932.2 655.4L932.2 649.3L954.8 649.3L954.8 655.4" fill="none" stroke="#111" stroke-width="1.15"/>
<text x="942.8" y="643.5" font-size="5.6" text-anchor="middle" fill="#222"><tspan font-style="italic">p</tspan> &lt; 0.0001</text>
<line x1="847.3" y1="760.6" x2="847.3" y2="765.2" stroke="#111" stroke-width="1.3" />
<text transform="translate(850.9,770.8) rotate(-45)" font-size="10.9" text-anchor="end" fill="#a0a0a0">FSW</text>
<line x1="868.75" y1="760.6" x2="868.75" y2="765.2" stroke="#111" stroke-width="1.3" />
<text transform="translate(872.35,770.8) rotate(-45)" font-size="10.9" text-anchor="end" fill="#111">NC</text>
<line x1="890.1" y1="760.6" x2="890.1" y2="765.2" stroke="#111" stroke-width="1.3" />
<text transform="translate(893.7,770.8) rotate(-45)" font-size="10.9" text-anchor="end" fill="#666">siRNA-1</text>
<line x1="911.4" y1="760.6" x2="911.4" y2="765.2" stroke="#111" stroke-width="1.3" />
<text transform="translate(915,770.8) rotate(-45)" font-size="10.9" text-anchor="end" fill="#333">siRNA-1+T3</text>
<line x1="932.7" y1="760.6" x2="932.7" y2="765.2" stroke="#111" stroke-width="1.3" />
<text transform="translate(936.3,770.8) rotate(-45)" font-size="10.9" text-anchor="end" fill="#777">siRNA-2</text>
<line x1="954" y1="760.6" x2="954" y2="765.2" stroke="#111" stroke-width="1.3" />
<text transform="translate(957.6,770.8) rotate(-45)" font-size="10.9" text-anchor="end" fill="#777">siRNA-2+T3</text>
</g>
<!-- panel_f -->
<g>
<text x="363.5" y="602.9" font-size="20.5" font-weight="bold" fill="#000" >f</text>
<defs>
<filter id="f05" x="-20%" y="-20%" width="140%" height="140%"><feGaussianBlur stdDeviation="0.6"/></filter>
<filter id="f1" x="-20%" y="-20%" width="140%" height="140%"><feGaussianBlur stdDeviation="1.2"/></filter>
<filter id="f2" x="-30%" y="-30%" width="160%" height="160%"><feGaussianBlur stdDeviation="2.2"/></filter>
<filter id="f3" x="-30%" y="-30%" width="160%" height="160%"><feGaussianBlur stdDeviation="3.5"/></filter>
<filter id="ftex" x="0" y="0" width="100%" height="100%" color-interpolation-filters="sRGB"><feTurbulence type="fractalNoise" baseFrequency="0.4" numOctaves="2" seed="5" result="n"/><feColorMatrix in="n" type="matrix" values="0 0 0 0 0.2  0 0 0 0 0.18  0 0 0 0 0.1  0 0 2.6 0 -1.05" result="c"/><feGaussianBlur in="SourceGraphic" stdDeviation="0.8" result="m"/><feComposite in="c" in2="m" operator="in"/></filter>
<filter id="ftexl" x="0" y="0" width="100%" height="100%" color-interpolation-filters="sRGB"><feTurbulence type="fractalNoise" baseFrequency="0.6" numOctaves="2" seed="9" result="n"/><feColorMatrix in="n" type="matrix" values="0 0 0 0 0.93  0 0 0 0 0.92  0 0 0 0 0.8  0 3.5 0 0 -1.7" result="c"/><feGaussianBlur in="SourceGraphic" stdDeviation="0.8" result="m"/><feComposite in="c" in2="m" operator="in"/></filter>
<linearGradient id="gp1" x1="0" x2="1" y1="0" y2="0.25"><stop offset="0" stop-color="#d6d6dc"/><stop offset="0.45" stop-color="#e2e2e7"/><stop offset="1" stop-color="#dcdce1"/></linearGradient>
<linearGradient id="gp2" x1="0" x2="1" y1="0" y2="0.5"><stop offset="0" stop-color="#c2c2c6"/><stop offset="0.4" stop-color="#d3d3d6"/><stop offset="1" stop-color="#c9c9cc"/></linearGradient>
<radialGradient id="gl" cx="0.5" cy="0.5" r="0.56"><stop offset="0" stop-color="#4f4936"/><stop offset="0.62" stop-color="#655f48"/><stop offset="0.9" stop-color="#8f8a70"/><stop offset="1" stop-color="#a29d86"/></radialGradient>
<radialGradient id="glg" cx="0.5" cy="0.5" r="0.56"><stop offset="0" stop-color="#55534a"/><stop offset="0.6" stop-color="#66645a"/><stop offset="0.9" stop-color="#7e7c70"/><stop offset="1" stop-color="#9a988c"/></radialGradient>
<radialGradient id="glh" cx="0.62" cy="0.42" r="0.62"><stop offset="0" stop-color="#6f6848"/><stop offset="0.5" stop-color="#857e5a"/><stop offset="1" stop-color="#b3ac84"/></radialGradient>
<linearGradient id="glt" x1="0" x2="1" y1="0" y2="0"><stop offset="0" stop-color="#918a66"/><stop offset="0.6" stop-color="#a39d7c"/><stop offset="1" stop-color="#b9b59c"/></linearGradient>
<clipPath id="cf1"><rect x="403.6" y="644.3" width="203.5" height="67.3"/></clipPath>
<clipPath id="cf2"><rect x="403.6" y="713.8" width="203.5" height="67.6"/></clipPath>
<clipPath id="cf3"><rect x="609" y="644.3" width="67.5" height="67.3"/></clipPath>
<clipPath id="cf4"><rect x="609" y="714" width="67.5" height="67.5"/></clipPath>
<clipPath id="cf5"><rect x="699.2" y="644.3" width="67.8" height="67.3"/></clipPath>
<clipPath id="cf6"><rect x="699.2" y="714.3" width="67.8" height="67.6"/></clipPath>
</defs>
<rect x="403.4" y="625" width="273.4" height="16.8" fill="#c9c9c9" stroke="#3c3636" stroke-width="1.4"/>
<rect x="699" y="625" width="68.5" height="16.8" fill="#c9c9c9" stroke="#3c3636" stroke-width="1.4"/>
<text x="552.2" y="637.7" font-size="11" text-anchor="middle" fill="#111" >siRNA treatment</text>
<text x="733.3" y="637.7" font-size="11" text-anchor="middle" fill="#111" >Control</text>
<rect x="384.6" y="644" width="17.6" height="67.6" fill="#c9c9c9" stroke="#3c3636" stroke-width="1.4"/>
<rect x="384.6" y="713.6" width="17.6" height="68" fill="#c9c9c9" stroke="#3c3636" stroke-width="1.4"/>
<rect x="680" y="644" width="17" height="67.6" fill="#c9c9c9" stroke="#3c3636" stroke-width="1.4"/>
<rect x="680" y="713.6" width="17" height="68.8" fill="#c9c9c9" stroke="#3c3636" stroke-width="1.4"/>
<text transform="translate(397.3,677.8) rotate(-90)" font-size="10.8" text-anchor="middle" fill="#111">siRNA-1</text>
<text transform="translate(397.3,747.6) rotate(-90)" font-size="10.8" text-anchor="middle" fill="#111">siRNA-2</text>
<text transform="translate(692.4,677.8) rotate(-90)" font-size="10.8" text-anchor="middle" fill="#111">NC</text>
<text transform="translate(692.4,748) rotate(-90)" font-size="10.8" text-anchor="middle" fill="#111">FSW</text>
<rect x="403.6" y="644.3" width="203.5" height="67.3" fill="url(#gp1)"/>
<g clip-path="url(#cf1)">
<path d="M441 671.5C442.5 671.82 440.17 673.08 450 673.4C459.83 673.72 482.5 672.77 500 673.4C517.5 674.03 540.33 676.02 555 677.2C569.67 678.38 579.83 679.57 588 680.5C596.17 681.43 601.33 682.42 604 682.8L604 684C601.33 684.33 596.17 685.75 588 686C579.83 686.25 569.67 685.77 555 685.5C540.33 685.23 517.5 684.55 500 684.4C482.5 684.25 459.83 684 450 684.6C440.17 685.2 442.5 687.43 441 688Z" fill="url(#glt)" filter="url(#f05)"/>
<path d="M448 681.2C456.67 681.17 482.17 680.77 500 681C517.83 681.23 540 682.1 555 682.6C570 683.1 584.17 683.77 590 684" fill="none" stroke="#c9c5a8" stroke-width="2" opacity="0.9" filter="url(#f05)"/>
<path d="M446 677.3C455 677.25 481.83 676.58 500 677C518.17 677.42 540 678.92 555 679.8C570 680.68 584.17 681.88 590 682.3" fill="none" stroke="#7a7452" stroke-width="1.6" opacity="0.8" filter="url(#f05)"/>
<path d="M441 671.8C442.5 672.12 440.17 673.38 450 673.7C459.83 674.02 482.5 673.07 500 673.7C517.5 674.33 540.33 676.32 555 677.5C569.67 678.68 579.83 679.87 588 680.8C596.17 681.73 601.33 682.72 604 683.1" fill="none" stroke="#b7b66e" stroke-width="1" opacity="0.8" filter="url(#f05)"/>
<path d="M441 671.5C442.5 671.82 440.17 673.08 450 673.4C459.83 673.72 482.5 672.77 500 673.4C517.5 674.03 540.33 676.02 555 677.2C569.67 678.38 579.83 679.57 588 680.5C596.17 681.43 601.33 682.42 604 682.8L604 684C601.33 684.33 596.17 685.75 588 686C579.83 686.25 569.67 685.77 555 685.5C540.33 685.23 517.5 684.55 500 684.4C482.5 684.25 459.83 684 450 684.6C440.17 685.2 442.5 687.43 441 688Z" fill="#fff" filter="url(#ftexl)" opacity="0.5"/>
<path d="M406 686C406.18 684.25 407.3 681.97 408.5 680.5C409.7 679.03 410.95 678.67 413.2 677.2C415.45 675.73 418.7 672.98 422 671.7C425.3 670.42 429.68 669.58 433 669.5C436.32 669.42 439.68 670.28 441.9 671.2C444.12 672.12 445.48 673.37 446.3 675C447.12 676.63 447.18 679.17 446.8 681C446.42 682.83 445.38 684.23 444 686C442.62 687.77 440.7 689.93 438.5 691.6C436.3 693.27 433.92 695.1 430.8 696C427.68 696.9 423.02 697.1 419.8 697C416.58 696.9 413.57 696.4 411.5 695.4C409.43 694.4 408.32 692.57 407.4 691C406.48 689.43 405.82 687.75 406 686Z" fill="#c8c4b4" stroke="#a9a5ac" stroke-width="1" filter="url(#f05)" transform="translate(-0.8,0.9)"/>
<path d="M406 686C406.18 684.25 407.3 681.97 408.5 680.5C409.7 679.03 410.95 678.67 413.2 677.2C415.45 675.73 418.7 672.98 422 671.7C425.3 670.42 429.68 669.58 433 669.5C436.32 669.42 439.68 670.28 441.9 671.2C444.12 672.12 445.48 673.37 446.3 675C447.12 676.63 447.18 679.17 446.8 681C446.42 682.83 445.38 684.23 444 686C442.62 687.77 440.7 689.93 438.5 691.6C436.3 693.27 433.92 695.1 430.8 696C427.68 696.9 423.02 697.1 419.8 697C416.58 696.9 413.57 696.4 411.5 695.4C409.43 694.4 408.32 692.57 407.4 691C406.48 689.43 405.82 687.75 406 686Z" fill="url(#glh)" filter="url(#f05)"/>
<ellipse cx="433.5" cy="681" rx="9" ry="10.5" fill="#665f42" opacity="0.55" filter="url(#f1)"/>
<path d="M409.5 684C409.92 685.17 410.42 689.25 412 691C413.58 692.75 416.33 694 419 694.5C421.67 695 426.5 694.08 428 694" fill="none" stroke="#beb88e" stroke-width="2.2" opacity="0.8" filter="url(#f05)"/>
<path d="M406 686C406.18 684.25 407.3 681.97 408.5 680.5C409.7 679.03 410.95 678.67 413.2 677.2C415.45 675.73 418.7 672.98 422 671.7C425.3 670.42 429.68 669.58 433 669.5C436.32 669.42 439.68 670.28 441.9 671.2C444.12 672.12 445.48 673.37 446.3 675C447.12 676.63 447.18 679.17 446.8 681C446.42 682.83 445.38 684.23 444 686C442.62 687.77 440.7 689.93 438.5 691.6C436.3 693.27 433.92 695.1 430.8 696C427.68 696.9 423.02 697.1 419.8 697C416.58 696.9 413.57 696.4 411.5 695.4C409.43 694.4 408.32 692.57 407.4 691C406.48 689.43 405.82 687.75 406 686Z" fill="#000" filter="url(#ftex)" opacity="0.3"/>
<circle cx="424.3" cy="680.2" r="1.9" fill="#1f1d16" filter="url(#f05)"/>
<circle cx="486.5" cy="665.5" r="0.9" fill="#b9b4a6" filter="url(#f05)"/>
<circle cx="487" cy="692" r="0.9" fill="#b9b4a6" filter="url(#f05)"/>
<circle cx="489" cy="704" r="0.9" fill="#b9b4a6" filter="url(#f05)"/>
<circle cx="504" cy="702" r="0.9" fill="#b9b4a6" filter="url(#f05)"/>
</g>
<rect x="403.6" y="713.8" width="203.5" height="67.6" fill="url(#gp2)"/>
<g clip-path="url(#cf2)">
<ellipse cx="500" cy="775" rx="90" ry="22" fill="#dadadc" opacity="0.8" filter="url(#f3)"/>
<polygon points="403.6,735.4 403.6,781.6 415.2,781.6" fill="#ffb973"/>
<path d="M452 737.6C452.88 737.83 453.13 738.6 457.3 739C461.47 739.4 468.22 739.3 477 740C485.78 740.7 500.67 742.45 510 743.2C519.33 743.95 523.67 744.2 533 744.5C542.33 744.8 556.83 745.18 566 745C575.17 744.82 582 743.73 588 743.4C594 743.07 599.67 743.07 602 743L602 744.2C599.67 745.07 594 747.78 588 749.4C582 751.02 575.17 753.07 566 753.9C556.83 754.73 542.33 754.6 533 754.4C523.67 754.2 519.33 753.43 510 752.7C500.67 751.97 485.78 750.45 477 750C468.22 749.55 461.8 749.5 457.3 750C452.8 750.5 451.22 752.5 450 753Z" fill="url(#glt)" filter="url(#f05)"/>
<path d="M458 743C461.17 743.1 468.33 743 477 743.6C485.67 744.2 500.67 745.83 510 746.6C519.33 747.37 523.67 747.92 533 748.2C542.33 748.48 556.5 748.75 566 748.3C575.5 747.85 586 745.97 590 745.5" fill="none" stroke="#c4c0a2" stroke-width="1.8" opacity="0.85" filter="url(#f05)"/>
<path d="M458 747.2C461.17 747.25 468.33 746.98 477 747.5C485.67 748.02 500.67 749.57 510 750.3C519.33 751.03 523.67 751.7 533 751.9C542.33 752.1 556.83 752.18 566 751.5C575.17 750.82 584.33 748.42 588 747.8" fill="none" stroke="#767050" stroke-width="1.6" opacity="0.75" filter="url(#f05)"/>
<path d="M452 737.6C452.88 737.83 453.13 738.6 457.3 739C461.47 739.4 468.22 739.3 477 740C485.78 740.7 500.67 742.45 510 743.2C519.33 743.95 523.67 744.2 533 744.5C542.33 744.8 556.83 745.18 566 745C575.17 744.82 582 743.73 588 743.4C594 743.07 599.67 743.07 602 743L602 744.2C599.67 745.07 594 747.78 588 749.4C582 751.02 575.17 753.07 566 753.9C556.83 754.73 542.33 754.6 533 754.4C523.67 754.2 519.33 753.43 510 752.7C500.67 751.97 485.78 750.45 477 750C468.22 749.55 461.8 749.5 457.3 750C452.8 750.5 451.22 752.5 450 753Z" fill="#fff" filter="url(#ftexl)" opacity="0.5"/>
<path d="M411 749.4C411.17 748.02 411.68 745.97 412.6 744.5C413.52 743.03 414.02 742.25 416.5 740.6C418.98 738.95 423.47 735.78 427.5 734.6C431.53 733.42 437.02 733.32 440.7 733.5C444.38 733.68 446.83 734.78 449.6 735.7C452.37 736.62 455.9 737.45 457.3 739C458.7 740.55 458.73 743.08 458 745C457.27 746.92 454.85 749.02 452.9 750.5C450.95 751.98 449.07 752.78 446.3 753.9C443.53 755.02 439.8 756.38 436.3 757.2C432.8 758.02 428.97 759 425.3 758.8C421.63 758.6 416.58 757 414.3 756C412.02 755 412.15 753.9 411.6 752.8C411.05 751.7 410.83 750.78 411 749.4Z" fill="#c9c8a4" stroke="#b3b48a" stroke-width="0.9" filter="url(#f05)" transform="translate(-0.3,1)"/>
<path d="M411 749.4C411.17 748.02 411.68 745.97 412.6 744.5C413.52 743.03 414.02 742.25 416.5 740.6C418.98 738.95 423.47 735.78 427.5 734.6C431.53 733.42 437.02 733.32 440.7 733.5C444.38 733.68 446.83 734.78 449.6 735.7C452.37 736.62 455.9 737.45 457.3 739C458.7 740.55 458.73 743.08 458 745C457.27 746.92 454.85 749.02 452.9 750.5C450.95 751.98 449.07 752.78 446.3 753.9C443.53 755.02 439.8 756.38 436.3 757.2C432.8 758.02 428.97 759 425.3 758.8C421.63 758.6 416.58 757 414.3 756C412.02 755 412.15 753.9 411.6 752.8C411.05 751.7 410.83 750.78 411 749.4Z" fill="url(#glh)" filter="url(#f05)"/>
<ellipse cx="442" cy="744" rx="9" ry="9" fill="#605a3c" opacity="0.55" filter="url(#f1)"/>
<path d="M411 749.4C411.17 748.02 411.68 745.97 412.6 744.5C413.52 743.03 414.02 742.25 416.5 740.6C418.98 738.95 423.47 735.78 427.5 734.6C431.53 733.42 437.02 733.32 440.7 733.5C444.38 733.68 446.83 734.78 449.6 735.7C452.37 736.62 455.9 737.45 457.3 739C458.7 740.55 458.73 743.08 458 745C457.27 746.92 454.85 749.02 452.9 750.5C450.95 751.98 449.07 752.78 446.3 753.9C443.53 755.02 439.8 756.38 436.3 757.2C432.8 758.02 428.97 759 425.3 758.8C421.63 758.6 416.58 757 414.3 756C412.02 755 412.15 753.9 411.6 752.8C411.05 751.7 410.83 750.78 411 749.4Z" fill="#000" filter="url(#ftex)" opacity="0.28"/>
<ellipse cx="430" cy="742.6" rx="2.1" ry="2.4" fill="#1b1a14" filter="url(#f05)"/>
</g>
<rect x="609" y="644.3" width="67.5" height="67.3" fill="#e3e3e6"/>
<g clip-path="url(#cf3)">
<path d="M613,668 C611,660 616,655 624,657" fill="none" stroke="#d0cfcc" stroke-width="0.9" stroke-dasharray="2 1.6"/><path d="M662,682 C668,686 673,691 677,694" fill="none" stroke="#cfcdc6" stroke-width="2.2" opacity="0.8" filter="url(#f05)"/>
<path d="M617 673.7C617.1 672.12 617.33 670.68 618 669.5C618.67 668.32 618.9 667.52 621 666.6C623.1 665.68 626.93 664.37 630.6 664C634.27 663.63 639.62 664.1 643 664.4C646.38 664.7 648.42 664.55 650.9 665.8C653.38 667.05 655.85 669.87 657.9 671.9C659.95 673.93 661.88 675.95 663.2 678C664.52 680.05 665.95 682.72 665.8 684.2C665.65 685.68 664.05 686.6 662.3 686.9C660.55 687.2 657.65 685.85 655.3 686C652.95 686.15 650.85 687.3 648.2 687.8C645.55 688.3 642.77 689 639.4 689C636.03 689 631.07 688.73 628 687.8C624.93 686.87 622.77 684.87 621 683.4C619.23 681.93 618.07 680.62 617.4 679C616.73 677.38 616.9 675.28 617 673.7Z" fill="#4c4a40" opacity="0.5" filter="url(#f1)"/>
<path d="M617 673.7C617.1 672.12 617.33 670.68 618 669.5C618.67 668.32 618.9 667.52 621 666.6C623.1 665.68 626.93 664.37 630.6 664C634.27 663.63 639.62 664.1 643 664.4C646.38 664.7 648.42 664.55 650.9 665.8C653.38 667.05 655.85 669.87 657.9 671.9C659.95 673.93 661.88 675.95 663.2 678C664.52 680.05 665.95 682.72 665.8 684.2C665.65 685.68 664.05 686.6 662.3 686.9C660.55 687.2 657.65 685.85 655.3 686C652.95 686.15 650.85 687.3 648.2 687.8C645.55 688.3 642.77 689 639.4 689C636.03 689 631.07 688.73 628 687.8C624.93 686.87 622.77 684.87 621 683.4C619.23 681.93 618.07 680.62 617.4 679C616.73 677.38 616.9 675.28 617 673.7Z" fill="url(#gl)" filter="url(#f05)"/>
<path d="M617 673.7C617.1 672.12 617.33 670.68 618 669.5C618.67 668.32 618.9 667.52 621 666.6C623.1 665.68 626.93 664.37 630.6 664C634.27 663.63 639.62 664.1 643 664.4C646.38 664.7 648.42 664.55 650.9 665.8C653.38 667.05 655.85 669.87 657.9 671.9C659.95 673.93 661.88 675.95 663.2 678C664.52 680.05 665.95 682.72 665.8 684.2C665.65 685.68 664.05 686.6 662.3 686.9C660.55 687.2 657.65 685.85 655.3 686C652.95 686.15 650.85 687.3 648.2 687.8C645.55 688.3 642.77 689 639.4 689C636.03 689 631.07 688.73 628 687.8C624.93 686.87 622.77 684.87 621 683.4C619.23 681.93 618.07 680.62 617.4 679C616.73 677.38 616.9 675.28 617 673.7Z" fill="#000" filter="url(#ftex)" opacity="0.28"/>

<ellipse cx="643.4" cy="675" rx="1.5" ry="1.6" fill="#15140f" filter="url(#f05)"/>
</g>
<rect x="609" y="714" width="67.5" height="67.5" fill="#dcdcdc"/>
<g clip-path="url(#cf4)">
<ellipse cx="640" cy="727" rx="36" ry="9" fill="#ececec" filter="url(#f3)"/><ellipse cx="655" cy="772" rx="20" ry="7" fill="#e9e9e9" filter="url(#f3)"/><line x1="615" y1="760" x2="617" y2="764" stroke="#8a87a0" stroke-width="0.9" opacity="0.7"/><line x1="619" y1="762" x2="620" y2="767" stroke="#8a87a0" stroke-width="0.9" opacity="0.7"/><line x1="622" y1="764" x2="622" y2="768" stroke="#8a87a0" stroke-width="0.9" opacity="0.7"/><line x1="648" y1="766" x2="650" y2="770" stroke="#8a87a0" stroke-width="0.9" opacity="0.7"/><line x1="656" y1="766" x2="660" y2="765" stroke="#8a87a0" stroke-width="0.9" opacity="0.7"/><line x1="660" y1="768" x2="664" y2="766" stroke="#8a87a0" stroke-width="0.9" opacity="0.7"/><line x1="664" y1="772" x2="668" y2="771" stroke="#8a87a0" stroke-width="0.9" opacity="0.7"/><line x1="667" y1="761" x2="671" y2="763" stroke="#8a87a0" stroke-width="0.9" opacity="0.7"/><line x1="672" y1="764" x2="675" y2="762" stroke="#8a87a0" stroke-width="0.9" opacity="0.7"/><line x1="640" y1="772" x2="644" y2="771" stroke="#8a87a0" stroke-width="0.9" opacity="0.7"/><line x1="666" y1="775" x2="669" y2="777" stroke="#8a87a0" stroke-width="0.9" opacity="0.7"/><line x1="658" y1="758" x2="661" y2="760" stroke="#8a87a0" stroke-width="0.9" opacity="0.7"/><path d="M668,744 L675.5,745.5 L676,749 L668,750Z" fill="#b9b59c" filter="url(#f05)"/><line x1="633" y1="732" x2="633.3" y2="738" stroke="#77745e" stroke-width="0.8"/>
<path d="M613.5 747.2C613.47 745.47 613.95 744.17 614.6 743C615.25 741.83 615.47 741.12 617.4 740.2C619.33 739.28 623.12 737.65 626.2 737.5C629.28 737.35 632.97 739.22 635.9 739.3C638.83 739.38 641.02 738 643.8 738C646.58 738 649.8 738.57 652.6 739.3C655.4 740.03 658.1 741.3 660.6 742.4C663.1 743.5 665.7 745.08 667.6 745.9C669.5 746.72 672.15 746.5 672 747.3C671.85 748.1 668.9 749.25 666.7 750.7C664.5 752.15 661.58 754.23 658.8 756C656.02 757.77 652.93 759.98 650 761.3C647.07 762.62 644.43 763.47 641.2 763.9C637.97 764.33 633.97 764.63 630.6 763.9C627.23 763.17 623.63 761.25 621 759.5C618.37 757.75 616.05 755.45 614.8 753.4C613.55 751.35 613.53 748.93 613.5 747.2Z" fill="#4c4a40" opacity="0.5" filter="url(#f1)"/>
<path d="M613.5 747.2C613.47 745.47 613.95 744.17 614.6 743C615.25 741.83 615.47 741.12 617.4 740.2C619.33 739.28 623.12 737.65 626.2 737.5C629.28 737.35 632.97 739.22 635.9 739.3C638.83 739.38 641.02 738 643.8 738C646.58 738 649.8 738.57 652.6 739.3C655.4 740.03 658.1 741.3 660.6 742.4C663.1 743.5 665.7 745.08 667.6 745.9C669.5 746.72 672.15 746.5 672 747.3C671.85 748.1 668.9 749.25 666.7 750.7C664.5 752.15 661.58 754.23 658.8 756C656.02 757.77 652.93 759.98 650 761.3C647.07 762.62 644.43 763.47 641.2 763.9C637.97 764.33 633.97 764.63 630.6 763.9C627.23 763.17 623.63 761.25 621 759.5C618.37 757.75 616.05 755.45 614.8 753.4C613.55 751.35 613.53 748.93 613.5 747.2Z" fill="url(#gl)" filter="url(#f05)"/>
<path d="M613.5 747.2C613.47 745.47 613.95 744.17 614.6 743C615.25 741.83 615.47 741.12 617.4 740.2C619.33 739.28 623.12 737.65 626.2 737.5C629.28 737.35 632.97 739.22 635.9 739.3C638.83 739.38 641.02 738 643.8 738C646.58 738 649.8 738.57 652.6 739.3C655.4 740.03 658.1 741.3 660.6 742.4C663.1 743.5 665.7 745.08 667.6 745.9C669.5 746.72 672.15 746.5 672 747.3C671.85 748.1 668.9 749.25 666.7 750.7C664.5 752.15 661.58 754.23 658.8 756C656.02 757.77 652.93 759.98 650 761.3C647.07 762.62 644.43 763.47 641.2 763.9C637.97 764.33 633.97 764.63 630.6 763.9C627.23 763.17 623.63 761.25 621 759.5C618.37 757.75 616.05 755.45 614.8 753.4C613.55 751.35 613.53 748.93 613.5 747.2Z" fill="#000" filter="url(#ftex)" opacity="0.28"/>

<ellipse cx="632" cy="749.4" rx="1.5" ry="1.6" fill="#15140f" filter="url(#f05)"/>
</g>
<rect x="699.2" y="644.3" width="67.8" height="67.3" fill="#f0f0f2"/>
<g clip-path="url(#cf5)">
<ellipse cx="716" cy="706" rx="15" ry="7" fill="#dcd7c0" opacity="0.75" filter="url(#f3)"/><ellipse cx="765" cy="690" rx="5" ry="8" fill="#e2ddc9" opacity="0.7" filter="url(#f2)"/><path d="M750,670 C758,672 763,678 763,684 C763,690 758,694 752,696" fill="none" stroke="#d2d0cc" stroke-width="0.8" filter="url(#f05)"/>
<path d="M711.8 681.6C711.4 679.2 712.27 677.62 713 676C713.73 674.38 714.05 673.1 716.2 671.9C718.35 670.7 722.52 669.23 725.9 668.8C729.28 668.37 733.12 668.7 736.5 669.3C739.88 669.9 743.42 670.95 746.2 672.4C748.98 673.85 751.73 676.17 753.2 678C754.67 679.83 755.15 681.48 755 683.4C754.85 685.32 754.22 687.6 752.3 689.5C750.38 691.4 746.72 693.48 743.5 694.8C740.28 696.12 736.52 697.25 733 697.4C729.48 697.55 725.33 696.87 722.4 695.7C719.47 694.53 717.17 692.75 715.4 690.4C713.63 688.05 712.2 684 711.8 681.6Z" fill="#4c4a40" opacity="0.5" filter="url(#f1)"/>
<path d="M711.8 681.6C711.4 679.2 712.27 677.62 713 676C713.73 674.38 714.05 673.1 716.2 671.9C718.35 670.7 722.52 669.23 725.9 668.8C729.28 668.37 733.12 668.7 736.5 669.3C739.88 669.9 743.42 670.95 746.2 672.4C748.98 673.85 751.73 676.17 753.2 678C754.67 679.83 755.15 681.48 755 683.4C754.85 685.32 754.22 687.6 752.3 689.5C750.38 691.4 746.72 693.48 743.5 694.8C740.28 696.12 736.52 697.25 733 697.4C729.48 697.55 725.33 696.87 722.4 695.7C719.47 694.53 717.17 692.75 715.4 690.4C713.63 688.05 712.2 684 711.8 681.6Z" fill="url(#glg)" filter="url(#f05)"/>
<path d="M711.8 681.6C711.4 679.2 712.27 677.62 713 676C713.73 674.38 714.05 673.1 716.2 671.9C718.35 670.7 722.52 669.23 725.9 668.8C729.28 668.37 733.12 668.7 736.5 669.3C739.88 669.9 743.42 670.95 746.2 672.4C748.98 673.85 751.73 676.17 753.2 678C754.67 679.83 755.15 681.48 755 683.4C754.85 685.32 754.22 687.6 752.3 689.5C750.38 691.4 746.72 693.48 743.5 694.8C740.28 696.12 736.52 697.25 733 697.4C729.48 697.55 725.33 696.87 722.4 695.7C719.47 694.53 717.17 692.75 715.4 690.4C713.63 688.05 712.2 684 711.8 681.6Z" fill="#000" filter="url(#ftex)" opacity="0.28"/>

<ellipse cx="732.3" cy="678.8" rx="1.5" ry="1.6" fill="#15140f" filter="url(#f05)"/>
</g>
<rect x="699.2" y="714.3" width="67.8" height="67.6" fill="#ededee"/>
<g clip-path="url(#cf6)">
<ellipse cx="713" cy="752" rx="8" ry="9.5" fill="none" stroke="#d6d4d0" stroke-width="0.8" opacity="0.8" filter="url(#f05)"/><path d="M699,781 L708,781.9 L699.2,781.9Z" fill="#555"/>
<path d="M713.2 753.4C712.83 751.27 713.5 749.97 714 748.5C714.5 747.03 714.5 746.22 716.2 744.6C717.9 742.98 721.27 740.05 724.2 738.8C727.13 737.55 730.73 737.02 733.8 737.1C736.87 737.18 740.1 738.05 742.6 739.3C745.1 740.55 746.88 743.28 748.8 744.6C750.72 745.92 752.57 746.18 754.1 747.2C755.63 748.22 757.57 749.23 758 750.7C758.43 752.17 757.65 754.68 756.7 756C755.75 757.32 754.2 757.57 752.3 758.6C750.4 759.63 748.23 761.02 745.3 762.2C742.37 763.38 738.22 765.12 734.7 765.7C731.18 766.28 727.28 766.43 724.2 765.7C721.12 764.97 718.03 763.35 716.2 761.3C714.37 759.25 713.57 755.53 713.2 753.4Z" fill="#4c4a40" opacity="0.5" filter="url(#f1)"/>
<path d="M713.2 753.4C712.83 751.27 713.5 749.97 714 748.5C714.5 747.03 714.5 746.22 716.2 744.6C717.9 742.98 721.27 740.05 724.2 738.8C727.13 737.55 730.73 737.02 733.8 737.1C736.87 737.18 740.1 738.05 742.6 739.3C745.1 740.55 746.88 743.28 748.8 744.6C750.72 745.92 752.57 746.18 754.1 747.2C755.63 748.22 757.57 749.23 758 750.7C758.43 752.17 757.65 754.68 756.7 756C755.75 757.32 754.2 757.57 752.3 758.6C750.4 759.63 748.23 761.02 745.3 762.2C742.37 763.38 738.22 765.12 734.7 765.7C731.18 766.28 727.28 766.43 724.2 765.7C721.12 764.97 718.03 763.35 716.2 761.3C714.37 759.25 713.57 755.53 713.2 753.4Z" fill="url(#glg)" filter="url(#f05)"/>
<path d="M713.2 753.4C712.83 751.27 713.5 749.97 714 748.5C714.5 747.03 714.5 746.22 716.2 744.6C717.9 742.98 721.27 740.05 724.2 738.8C727.13 737.55 730.73 737.02 733.8 737.1C736.87 737.18 740.1 738.05 742.6 739.3C745.1 740.55 746.88 743.28 748.8 744.6C750.72 745.92 752.57 746.18 754.1 747.2C755.63 748.22 757.57 749.23 758 750.7C758.43 752.17 757.65 754.68 756.7 756C755.75 757.32 754.2 757.57 752.3 758.6C750.4 759.63 748.23 761.02 745.3 762.2C742.37 763.38 738.22 765.12 734.7 765.7C731.18 766.28 727.28 766.43 724.2 765.7C721.12 764.97 718.03 763.35 716.2 761.3C714.37 759.25 713.57 755.53 713.2 753.4Z" fill="#000" filter="url(#ftex)" opacity="0.28"/>
<ellipse cx="734.5" cy="752" rx="8" ry="7" fill="#403c34" opacity="0.5" filter="url(#f2)"/><ellipse cx="754.6" cy="752.3" rx="3.2" ry="4.6" fill="#a29e8c" opacity="0.6" filter="url(#f1)"/>
<ellipse cx="727" cy="747.2" rx="1.5" ry="1.6" fill="#15140f" filter="url(#f05)"/>
</g>
<text x="606.2" y="657" font-size="10.8" text-anchor="end" fill="#111" >185 / 300</text>
<text x="604.8" y="726.4" font-size="10.8" text-anchor="end" fill="#111" >200 / 281</text>
<text x="676.1" y="656.6" font-size="10.8" text-anchor="end" fill="#111" >231 / 324</text>
<text x="676.1" y="726.3" font-size="10.8" text-anchor="end" fill="#111" >233 / 347</text>
<text x="765.8" y="656.6" font-size="10.8" text-anchor="end" fill="#111" >245 / 338</text>
<text x="764.6" y="726.2" font-size="10.8" text-anchor="end" fill="#111" >230 / 291</text>
<text x="611.9" y="707.7" font-size="10.8" fill="#111" >+T3</text>
<text x="611.9" y="777.2" font-size="10.8" fill="#111" >+T3</text>
<line x1="582.3" y1="788" x2="604" y2="788" stroke="#1a1a1a" stroke-width="1.6" />
<line x1="653.5" y1="788" x2="675" y2="788" stroke="#1a1a1a" stroke-width="1.6" />
<line x1="742.4" y1="787.2" x2="763.2" y2="787.2" stroke="#1a1a1a" stroke-width="1.6" />
<text x="745.3" y="803.4" font-size="10.2" text-anchor="middle" fill="#333" >Bar = 50 µm</text>
</g>
</svg>
</body></html>
